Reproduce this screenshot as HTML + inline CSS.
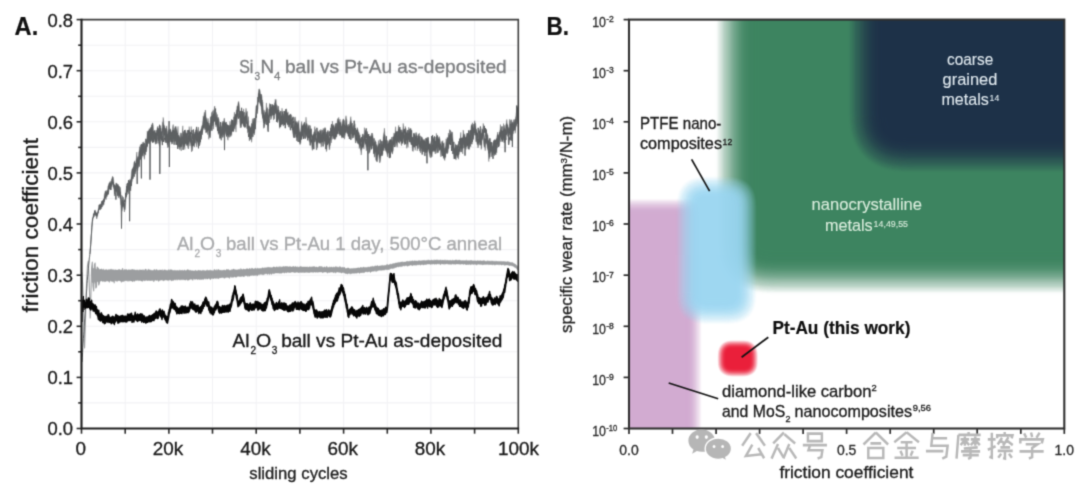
<!DOCTYPE html>
<html><head><meta charset="utf-8"><title>figure</title>
<style>
html,body{margin:0;padding:0;background:#fff;}
body{width:1080px;height:489px;overflow:hidden;font-family:"Liberation Sans",sans-serif;}
svg{display:block;}
svg text{font-family:"Liberation Sans",sans-serif;}
</style></head><body>
<svg width="1080" height="489" viewBox="0 0 1080 489">
<defs>
<filter id="b8" x="-20%" y="-20%" width="140%" height="140%"><feGaussianBlur stdDeviation="7.8 10"/></filter>
<filter id="b6" x="-20%" y="-20%" width="140%" height="140%"><feGaussianBlur stdDeviation="9"/></filter>
<filter id="b4" x="-30%" y="-30%" width="160%" height="160%"><feGaussianBlur stdDeviation="4.6"/></filter>
<filter id="b5" x="-30%" y="-30%" width="160%" height="160%"><feGaussianBlur stdDeviation="5.4"/></filter>
<filter id="b3" x="-30%" y="-30%" width="160%" height="160%"><feGaussianBlur stdDeviation="3.2"/></filter>
<filter id="pu" filterUnits="userSpaceOnUse" x="518" y="163.5" width="218.8" height="398.5" color-interpolation-filters="sRGB"><feGaussianBlur stdDeviation="4.12"/><feComponentTransfer><feFuncA type="table" tableValues="0.000 0.000 0.018 0.107 0.177 0.229 0.281 0.332 0.382 0.409 0.435 0.462 0.488 0.515 0.541 0.568 0.594 0.621 0.647 0.674 0.700 0.718 0.737 0.755 0.773 0.792 0.810 0.828 0.847 0.865 0.883 0.902 0.920 0.933 0.946 0.959 0.972 0.985 0.997 1.000 1.000"/></feComponentTransfer></filter>
<filter id="gr" filterUnits="userSpaceOnUse" x="622.3" y="-211" width="688.7" height="598.6" color-interpolation-filters="sRGB"><feGaussianBlur stdDeviation="10.88"/><feComponentTransfer><feFuncA type="table" tableValues="0.000 0.000 0.018 0.107 0.177 0.229 0.281 0.332 0.382 0.409 0.435 0.462 0.488 0.515 0.541 0.568 0.594 0.621 0.647 0.674 0.700 0.718 0.737 0.755 0.773 0.792 0.810 0.828 0.847 0.865 0.883 0.902 0.920 0.933 0.946 0.959 0.972 0.985 0.997 1.000 1.000"/></feComponentTransfer></filter>
<filter id="nv" filterUnits="userSpaceOnUse" x="759.2" y="-205" width="545.8" height="466.6" color-interpolation-filters="sRGB"><feGaussianBlur stdDeviation="10.29"/><feComponentTransfer><feFuncA type="table" tableValues="0.000 0.000 0.018 0.107 0.177 0.229 0.281 0.332 0.382 0.409 0.435 0.462 0.488 0.515 0.541 0.568 0.594 0.621 0.647 0.674 0.700 0.718 0.737 0.755 0.773 0.792 0.810 0.828 0.847 0.865 0.883 0.902 0.920 0.933 0.946 0.959 0.972 0.985 0.997 1.000 1.000"/></feComponentTransfer></filter>
<filter id="bl" filterUnits="userSpaceOnUse" x="623.5" y="123.5" width="186" height="253.5" color-interpolation-filters="sRGB"><feGaussianBlur stdDeviation="6.18"/><feComponentTransfer><feFuncA type="table" tableValues="0.000 0.000 0.018 0.107 0.177 0.229 0.281 0.332 0.382 0.409 0.435 0.462 0.488 0.515 0.541 0.568 0.594 0.621 0.647 0.674 0.700 0.718 0.737 0.755 0.773 0.792 0.810 0.828 0.847 0.865 0.883 0.902 0.920 0.933 0.946 0.959 0.972 0.985 0.997 1.000 1.000"/></feComponentTransfer></filter>
<filter id="rd" filterUnits="userSpaceOnUse" x="693" y="315.7" width="89.5" height="85.6" color-interpolation-filters="sRGB"><feGaussianBlur stdDeviation="2.79"/><feComponentTransfer><feFuncA type="table" tableValues="0.000 0.000 0.018 0.107 0.177 0.229 0.281 0.332 0.382 0.409 0.435 0.462 0.488 0.515 0.541 0.568 0.594 0.621 0.647 0.674 0.700 0.718 0.737 0.755 0.773 0.792 0.810 0.828 0.847 0.865 0.883 0.902 0.920 0.933 0.946 0.959 0.972 0.985 0.997 1.000 1.000"/></feComponentTransfer></filter>
<filter id="soft" x="0" y="0" width="1080" height="489" filterUnits="userSpaceOnUse" color-interpolation-filters="sRGB"><feConvolveMatrix order="3" kernelMatrix="0.0289 0.1122 0.0289 0.1122 0.4356 0.1122 0.0289 0.1122 0.0289" edgeMode="duplicate" preserveAlpha="false"/></filter>
<clipPath id="cb"><rect x="629.0" y="19.6" width="435.3" height="408.9"/></clipPath>
<clipPath id="ca"><rect x="81.5" y="19.6" width="436.8" height="408.9"/></clipPath>
</defs>
<g filter="url(#soft)">
<rect width="1080" height="489" fill="#ffffff"/>
<!-- ===== panel A ===== -->
<g stroke="#f2f2f5" stroke-width="1.1" fill="none"><line x1="125.2" y1="19.6" x2="125.2" y2="428.5"/><line x1="168.9" y1="19.6" x2="168.9" y2="428.5"/><line x1="212.5" y1="19.6" x2="212.5" y2="428.5"/><line x1="256.2" y1="19.6" x2="256.2" y2="428.5"/><line x1="299.9" y1="19.6" x2="299.9" y2="428.5"/><line x1="343.6" y1="19.6" x2="343.6" y2="428.5"/><line x1="387.3" y1="19.6" x2="387.3" y2="428.5"/><line x1="430.9" y1="19.6" x2="430.9" y2="428.5"/><line x1="474.6" y1="19.6" x2="474.6" y2="428.5"/><line x1="81.5" y1="45.2" x2="518.3" y2="45.2"/><line x1="81.5" y1="70.7" x2="518.3" y2="70.7"/><line x1="81.5" y1="96.3" x2="518.3" y2="96.3"/><line x1="81.5" y1="121.8" x2="518.3" y2="121.8"/><line x1="81.5" y1="147.4" x2="518.3" y2="147.4"/><line x1="81.5" y1="172.9" x2="518.3" y2="172.9"/><line x1="81.5" y1="198.5" x2="518.3" y2="198.5"/><line x1="81.5" y1="224.0" x2="518.3" y2="224.0"/><line x1="81.5" y1="249.6" x2="518.3" y2="249.6"/><line x1="81.5" y1="275.2" x2="518.3" y2="275.2"/><line x1="81.5" y1="300.7" x2="518.3" y2="300.7"/><line x1="81.5" y1="326.3" x2="518.3" y2="326.3"/><line x1="81.5" y1="351.8" x2="518.3" y2="351.8"/><line x1="81.5" y1="377.4" x2="518.3" y2="377.4"/><line x1="81.5" y1="402.9" x2="518.3" y2="402.9"/></g>
<g clip-path="url(#ca)">
<polyline fill="none" stroke="#9fa1a3" stroke-width="1.1" stroke-linejoin="round" points="81.8,272.0 82.6,283.0 83.6,310.0 84.6,348.0 85.4,322.0 86.4,288.0 87.4,266.0 88.3,261.0 89.2,282.0 90.2,318.0 90.9,296.0 91.6,268.0 92.3,262.0 93.0,286.0 93.7,291.0 94.4,265.0 95.1,263.0 95.8,288.0 96.5,287.0 97.2,267.0 98.0,268.0 98.7,285.0 99.4,283.0 100.2,269.0"/>
<polygon fill="#9c9ea0" stroke="#9c9ea0" stroke-width="0.5" points="92.0,268.5 92.6,268.6 93.2,268.5 93.8,268.2 94.4,269.0 95.0,269.3 95.6,268.7 96.2,269.5 96.8,269.1 97.4,269.3 98.0,268.9 98.6,268.1 99.2,270.0 99.8,269.5 100.4,269.9 101.0,268.9 101.6,268.9 102.2,270.1 102.8,269.4 103.4,268.9 104.0,270.2 104.6,270.1 105.2,269.6 105.8,270.1 106.4,269.8 107.0,269.6 107.6,270.2 108.2,269.7 108.8,269.7 109.4,269.9 110.0,269.2 110.6,269.4 111.2,269.2 111.8,269.5 112.4,269.9 113.0,269.3 113.6,270.0 114.2,270.2 114.8,269.8 115.4,269.8 116.0,270.1 116.6,270.1 117.2,270.1 117.8,270.1 118.4,269.5 119.0,270.0 119.6,269.3 120.2,269.9 120.8,270.0 121.4,269.9 122.0,269.9 122.6,268.0 123.2,270.1 123.8,270.3 124.4,269.7 125.0,269.3 125.6,270.0 126.2,269.7 126.8,269.6 127.4,270.2 128.0,270.1 128.6,269.7 129.2,270.1 129.8,269.7 130.4,270.1 131.0,269.5 131.6,269.7 132.2,269.9 132.8,269.0 133.4,269.9 134.0,270.1 134.6,269.7 135.2,270.3 135.8,270.0 136.4,270.0 137.0,270.3 137.6,269.9 138.2,270.0 138.8,270.4 139.4,269.9 140.0,269.8 140.6,270.0 141.2,270.0 141.8,270.1 142.4,270.3 143.0,269.5 143.6,270.3 144.2,270.2 144.8,270.2 145.4,269.1 146.0,269.0 146.6,270.4 147.2,270.3 147.8,270.5 148.4,268.9 149.0,269.7 149.6,270.0 150.2,269.9 150.8,270.2 151.4,270.3 152.0,270.6 152.6,270.5 153.2,270.2 153.8,270.2 154.4,269.4 155.0,269.9 155.6,270.5 156.2,269.2 156.8,269.9 157.4,269.9 158.0,270.5 158.6,270.3 159.2,270.2 159.8,270.1 160.4,270.1 161.0,269.9 161.6,270.0 162.2,270.7 162.8,269.6 163.4,270.7 164.0,270.3 164.6,269.7 165.2,270.0 165.8,270.3 166.4,270.3 167.0,270.6 167.6,270.4 168.2,270.3 168.8,269.5 169.4,270.2 170.0,270.2 170.6,269.6 171.2,270.0 171.8,269.8 172.4,270.2 173.0,270.6 173.6,270.5 174.2,270.5 174.8,270.2 175.4,270.4 176.0,270.6 176.6,270.7 177.2,270.1 177.8,270.7 178.4,270.8 179.0,270.3 179.6,270.2 180.2,270.6 180.8,270.2 181.4,270.6 182.0,270.3 182.6,270.3 183.2,270.7 183.8,270.5 184.4,270.1 185.0,270.2 185.6,270.8 186.2,270.5 186.8,270.3 187.4,269.5 188.0,270.3 188.6,269.7 189.2,270.6 189.8,270.5 190.4,270.1 191.0,270.9 191.6,270.8 192.2,270.8 192.8,270.7 193.4,270.9 194.0,270.8 194.6,270.9 195.2,270.6 195.8,270.2 196.4,271.0 197.0,270.9 197.6,270.7 198.2,270.5 198.8,270.1 199.4,270.8 200.0,270.4 200.6,270.6 201.2,270.7 201.8,270.9 202.4,270.7 203.0,269.9 203.6,270.7 204.2,270.5 204.8,270.8 205.4,270.9 206.0,270.4 206.6,270.4 207.2,269.8 207.8,270.8 208.4,270.6 209.0,270.6 209.6,270.5 210.2,269.8 210.8,270.7 211.4,270.5 212.0,270.7 212.6,270.7 213.2,270.8 213.8,270.4 214.4,269.2 215.0,270.5 215.6,270.1 216.2,270.7 216.8,269.4 217.4,270.8 218.0,269.6 218.6,269.5 219.2,270.6 219.8,270.0 220.4,270.3 221.0,270.3 221.6,270.4 222.2,270.7 222.8,270.0 223.4,270.3 224.0,269.9 224.6,269.9 225.2,270.7 225.8,270.0 226.4,269.5 227.0,269.6 227.6,269.7 228.2,269.8 228.8,269.5 229.4,270.4 230.0,270.3 230.6,270.3 231.2,270.2 231.8,269.5 232.4,270.2 233.0,269.1 233.6,269.0 234.2,269.7 234.8,269.5 235.4,269.9 236.0,269.6 236.6,270.1 237.2,269.8 237.8,269.9 238.4,269.6 239.0,269.5 239.6,269.4 240.2,269.8 240.8,268.5 241.4,269.3 242.0,269.3 242.6,269.7 243.2,269.3 243.8,268.9 244.4,269.6 245.0,269.1 245.6,269.4 246.2,269.0 246.8,268.8 247.4,268.7 248.0,269.1 248.6,269.3 249.2,268.6 249.8,268.4 250.4,269.0 251.0,269.2 251.6,268.2 252.2,268.3 252.8,268.6 253.4,269.0 254.0,269.0 254.6,268.8 255.2,268.1 255.8,268.4 256.4,268.9 257.0,268.8 257.6,268.0 258.2,268.5 258.8,268.7 259.4,268.6 260.0,268.4 260.6,268.6 261.2,268.2 261.8,268.5 262.4,267.7 263.0,268.0 263.6,268.3 264.2,267.6 264.8,268.3 265.4,267.9 266.0,267.5 266.6,267.8 267.2,267.9 267.8,267.1 268.4,267.3 269.0,267.6 269.6,267.6 270.2,267.2 270.8,267.9 271.4,267.7 272.0,267.5 272.6,267.7 273.2,266.9 273.8,266.9 274.4,267.1 275.0,267.3 275.6,267.4 276.2,266.8 276.8,267.1 277.4,267.1 278.0,267.4 278.6,266.9 279.2,267.2 279.8,266.5 280.4,266.7 281.0,267.4 281.6,267.0 282.2,266.8 282.8,267.0 283.4,266.5 284.0,266.6 284.6,266.9 285.2,266.2 285.8,266.8 286.4,267.1 287.0,266.0 287.6,267.1 288.2,267.0 288.8,266.8 289.4,266.8 290.0,266.4 290.6,266.8 291.2,267.1 291.8,267.0 292.4,266.8 293.0,266.7 293.6,266.3 294.2,267.0 294.8,267.0 295.4,266.3 296.0,266.9 296.6,267.1 297.2,266.6 297.8,267.2 298.4,267.2 299.0,267.0 299.6,266.9 300.2,266.4 300.8,266.6 301.4,266.8 302.0,267.0 302.6,267.0 303.2,266.9 303.8,267.0 304.4,267.0 305.0,266.9 305.6,267.0 306.2,267.0 306.8,267.1 307.4,266.9 308.0,267.2 308.6,267.3 309.2,266.8 309.8,266.9 310.4,266.9 311.0,267.2 311.6,266.9 312.2,266.8 312.8,266.9 313.4,266.7 314.0,266.4 314.6,266.8 315.2,267.0 315.8,267.3 316.4,267.0 317.0,267.1 317.6,267.4 318.2,266.8 318.8,267.2 319.4,266.8 320.0,266.0 320.6,267.4 321.2,266.2 321.8,267.3 322.4,266.9 323.0,267.4 323.6,267.4 324.2,266.9 324.8,266.9 325.4,267.4 326.0,267.4 326.6,266.2 327.2,267.0 327.8,267.5 328.4,267.5 329.0,267.4 329.6,267.0 330.2,267.5 330.8,267.1 331.4,267.0 332.0,267.3 332.6,267.4 333.2,267.2 333.8,266.9 334.4,267.3 335.0,267.4 335.6,266.5 336.2,267.2 336.8,266.7 337.4,267.0 338.0,267.5 338.6,267.3 339.2,267.5 339.8,266.4 340.4,267.1 341.0,267.2 341.6,267.8 342.2,267.4 342.8,267.3 343.4,268.1 344.0,267.1 344.6,267.6 345.2,268.4 345.8,268.4 346.4,268.5 347.0,268.2 347.6,268.1 348.2,268.0 348.8,268.1 349.4,269.0 350.0,268.4 350.6,269.0 351.2,268.4 351.8,268.7 352.4,268.7 353.0,268.2 353.6,268.4 354.2,268.6 354.8,268.3 355.4,268.4 356.0,268.0 356.6,268.3 357.2,267.9 357.8,268.1 358.4,267.8 359.0,268.0 359.6,268.0 360.2,268.0 360.8,267.0 361.4,267.7 362.0,267.7 362.6,267.8 363.2,267.1 363.8,267.2 364.4,267.4 365.0,267.4 365.6,267.5 366.2,267.5 366.8,267.4 367.4,267.3 368.0,267.3 368.6,267.0 369.2,267.2 369.8,267.1 370.4,266.8 371.0,266.8 371.6,266.7 372.2,266.2 372.8,266.5 373.4,266.7 374.0,266.4 374.6,266.2 375.2,265.7 375.8,266.2 376.4,266.1 377.0,265.9 377.6,265.5 378.2,266.1 378.8,266.3 379.4,266.1 380.0,265.7 380.6,265.9 381.2,265.6 381.8,265.8 382.4,265.4 383.0,265.5 383.6,265.7 384.2,265.8 384.8,265.3 385.4,265.6 386.0,265.3 386.6,264.9 387.2,264.2 387.8,265.2 388.4,265.0 389.0,264.9 389.6,264.5 390.2,264.6 390.8,263.8 391.4,264.5 392.0,264.1 392.6,263.9 393.2,263.3 393.8,264.0 394.4,263.6 395.0,263.2 395.6,263.1 396.2,263.0 396.8,262.9 397.4,262.8 398.0,262.8 398.6,262.4 399.2,262.5 399.8,262.6 400.4,262.3 401.0,262.1 401.6,262.1 402.2,262.2 402.8,261.8 403.4,262.2 404.0,262.0 404.6,262.1 405.2,262.0 405.8,261.9 406.4,261.8 407.0,261.0 407.6,261.4 408.2,261.5 408.8,261.6 409.4,261.3 410.0,261.2 410.6,261.2 411.2,261.3 411.8,261.0 412.4,260.8 413.0,261.0 413.6,261.2 414.2,260.9 414.8,260.8 415.4,260.9 416.0,261.0 416.6,261.0 417.2,261.2 417.8,261.0 418.4,260.8 419.0,260.7 419.6,260.7 420.2,260.8 420.8,261.0 421.4,260.7 422.0,260.9 422.6,260.6 423.2,260.6 423.8,260.6 424.4,260.4 425.0,260.6 425.6,260.8 426.2,260.4 426.8,260.5 427.4,260.3 428.0,260.4 428.6,260.1 429.2,260.5 429.8,260.3 430.4,260.5 431.0,260.4 431.6,260.1 432.2,260.3 432.8,260.5 433.4,260.2 434.0,260.5 434.6,260.0 435.2,260.3 435.8,260.1 436.4,259.9 437.0,260.3 437.6,260.0 438.2,260.3 438.8,260.2 439.4,260.3 440.0,260.2 440.6,260.0 441.2,260.5 441.8,260.2 442.4,260.3 443.0,260.1 443.6,260.4 444.2,260.0 444.8,260.4 445.4,259.9 446.0,260.5 446.6,260.4 447.2,259.9 447.8,260.6 448.4,260.6 449.0,260.4 449.6,260.5 450.2,260.5 450.8,260.3 451.4,260.7 452.0,260.4 452.6,260.2 453.2,260.3 453.8,260.7 454.4,260.5 455.0,260.3 455.6,260.1 456.2,260.0 456.8,260.2 457.4,260.3 458.0,260.7 458.6,260.0 459.2,260.1 459.8,260.3 460.4,260.4 461.0,260.8 461.6,260.7 462.2,260.8 462.8,260.5 463.4,260.8 464.0,260.4 464.6,260.8 465.2,260.8 465.8,260.5 466.4,260.2 467.0,260.7 467.6,260.8 468.2,260.8 468.8,260.7 469.4,260.8 470.0,260.8 470.6,260.4 471.2,260.3 471.8,260.8 472.4,261.0 473.0,260.6 473.6,260.9 474.2,261.0 474.8,260.8 475.4,260.8 476.0,261.1 476.6,261.1 477.2,260.5 477.8,261.0 478.4,261.0 479.0,260.6 479.6,261.0 480.2,261.1 480.8,260.6 481.4,261.1 482.0,260.9 482.6,260.9 483.2,260.7 483.8,260.8 484.4,260.7 485.0,261.2 485.6,261.3 486.2,261.2 486.8,261.2 487.4,261.2 488.0,260.6 488.6,261.2 489.2,261.3 489.8,261.1 490.4,261.4 491.0,260.7 491.6,261.3 492.2,261.3 492.8,260.9 493.4,261.2 494.0,261.4 494.6,261.3 495.2,261.4 495.8,261.2 496.4,261.3 497.0,261.3 497.6,261.5 498.2,261.5 498.8,261.4 499.4,261.5 500.0,261.4 500.6,261.4 501.2,261.6 501.8,261.4 502.4,261.6 503.0,261.7 503.6,261.5 504.2,261.6 504.8,261.7 505.4,261.8 506.0,261.8 506.6,261.9 507.2,261.7 507.8,261.6 508.4,261.8 509.0,262.2 509.6,262.1 510.2,262.4 510.8,262.6 511.4,262.8 512.0,262.2 512.6,262.8 513.2,263.0 513.8,263.6 514.4,263.9 515.0,263.8 515.6,264.6 516.2,264.9 516.8,265.5 517.4,266.3 518.0,266.7 518.0,270.1 517.4,269.8 516.8,268.9 516.2,268.1 515.6,267.9 515.0,267.3 514.4,267.1 513.8,266.8 513.2,266.1 512.6,266.0 512.0,265.8 511.4,265.7 510.8,265.5 510.2,265.4 509.6,265.4 509.0,265.8 508.4,265.1 507.8,264.9 507.2,265.1 506.6,264.9 506.0,265.0 505.4,264.9 504.8,265.6 504.2,264.7 503.6,264.7 503.0,264.8 502.4,264.7 501.8,265.0 501.2,264.9 500.6,264.5 500.0,264.5 499.4,264.8 498.8,264.5 498.2,264.8 497.6,264.5 497.0,264.5 496.4,264.4 495.8,264.8 495.2,264.7 494.6,265.0 494.0,264.6 493.4,264.4 492.8,264.5 492.2,265.1 491.6,264.5 491.0,264.5 490.4,264.5 489.8,264.6 489.2,264.4 488.6,264.6 488.0,264.6 487.4,264.3 486.8,264.3 486.2,264.6 485.6,264.6 485.0,264.3 484.4,264.4 483.8,264.4 483.2,264.7 482.6,265.0 482.0,264.2 481.4,264.4 480.8,264.2 480.2,264.6 479.6,264.2 479.0,264.4 478.4,264.1 477.8,264.3 477.2,264.2 476.6,265.2 476.0,264.3 475.4,264.3 474.8,264.3 474.2,264.1 473.6,264.7 473.0,264.1 472.4,264.2 471.8,264.3 471.2,264.2 470.6,264.8 470.0,264.5 469.4,264.1 468.8,264.8 468.2,264.3 467.6,264.4 467.0,264.0 466.4,265.0 465.8,264.4 465.2,264.2 464.6,264.0 464.0,264.0 463.4,264.4 462.8,264.0 462.2,264.1 461.6,264.1 461.0,264.0 460.4,264.3 459.8,264.0 459.2,264.2 458.6,264.0 458.0,264.0 457.4,263.9 456.8,263.9 456.2,263.9 455.6,264.3 455.0,264.2 454.4,264.1 453.8,263.9 453.2,264.3 452.6,263.8 452.0,264.4 451.4,264.1 450.8,264.4 450.2,263.9 449.6,264.2 449.0,264.0 448.4,264.2 447.8,263.8 447.2,264.1 446.6,263.8 446.0,264.0 445.4,264.1 444.8,263.8 444.2,264.5 443.6,264.0 443.0,264.0 442.4,263.9 441.8,263.7 441.2,263.9 440.6,264.7 440.0,264.4 439.4,263.8 438.8,263.8 438.2,264.1 437.6,263.8 437.0,263.9 436.4,264.2 435.8,263.9 435.2,264.1 434.6,264.4 434.0,263.7 433.4,263.9 432.8,264.0 432.2,264.2 431.6,264.1 431.0,264.2 430.4,264.5 429.8,264.1 429.2,264.0 428.6,264.1 428.0,264.0 427.4,264.1 426.8,264.2 426.2,264.4 425.6,264.5 425.0,264.5 424.4,264.5 423.8,264.7 423.2,264.9 422.6,264.6 422.0,264.6 421.4,264.5 420.8,265.2 420.2,264.8 419.6,264.6 419.0,265.0 418.4,264.8 417.8,264.8 417.2,264.8 416.6,265.3 416.0,264.8 415.4,265.2 414.8,264.9 414.2,265.3 413.6,264.8 413.0,265.7 412.4,265.4 411.8,264.9 411.2,265.4 410.6,265.0 410.0,265.1 409.4,265.4 408.8,266.0 408.2,265.5 407.6,266.3 407.0,265.8 406.4,265.6 405.8,265.7 405.2,265.6 404.6,266.1 404.0,265.8 403.4,265.7 402.8,265.8 402.2,266.5 401.6,266.6 401.0,266.1 400.4,266.7 399.8,266.5 399.2,266.4 398.6,266.9 398.0,266.7 397.4,266.7 396.8,266.9 396.2,267.5 395.6,267.5 395.0,267.5 394.4,268.0 393.8,268.4 393.2,267.9 392.6,268.7 392.0,268.2 391.4,268.2 390.8,268.9 390.2,268.6 389.6,268.7 389.0,270.0 388.4,269.1 387.8,269.9 387.2,269.2 386.6,269.8 386.0,269.5 385.4,269.6 384.8,269.8 384.2,270.1 383.6,269.9 383.0,270.3 382.4,270.0 381.8,270.4 381.2,270.0 380.6,270.3 380.0,270.1 379.4,270.3 378.8,270.2 378.2,270.6 377.6,271.1 377.0,270.5 376.4,271.4 375.8,271.5 375.2,270.6 374.6,270.8 374.0,271.6 373.4,271.0 372.8,271.3 372.2,271.3 371.6,271.4 371.0,272.1 370.4,272.6 369.8,271.3 369.2,271.7 368.6,271.7 368.0,271.7 367.4,272.0 366.8,271.7 366.2,271.8 365.6,271.7 365.0,272.0 364.4,272.6 363.8,273.0 363.2,272.0 362.6,272.7 362.0,272.2 361.4,272.9 360.8,273.0 360.2,272.4 359.6,273.4 359.0,273.0 358.4,272.6 357.8,273.0 357.2,272.8 356.6,273.1 356.0,273.4 355.4,272.9 354.8,273.4 354.2,273.0 353.6,273.3 353.0,273.3 352.4,273.2 351.8,273.5 351.2,273.4 350.6,274.1 350.0,273.6 349.4,273.6 348.8,273.3 348.2,273.5 347.6,273.9 347.0,273.7 346.4,273.4 345.8,273.7 345.2,273.2 344.6,273.0 344.0,272.8 343.4,272.6 342.8,272.6 342.2,272.5 341.6,273.1 341.0,273.1 340.4,272.2 339.8,272.2 339.2,272.5 338.6,272.2 338.0,272.1 337.4,272.0 336.8,272.0 336.2,272.3 335.6,273.2 335.0,272.0 334.4,272.0 333.8,273.1 333.2,272.0 332.6,272.1 332.0,272.3 331.4,272.1 330.8,272.1 330.2,272.2 329.6,272.4 329.0,272.5 328.4,272.0 327.8,273.2 327.2,272.6 326.6,272.3 326.0,272.1 325.4,272.0 324.8,272.1 324.2,272.1 323.6,272.2 323.0,272.5 322.4,272.7 321.8,272.0 321.2,271.9 320.6,272.0 320.0,272.0 319.4,272.0 318.8,272.2 318.2,272.1 317.6,272.3 317.0,272.2 316.4,272.1 315.8,272.3 315.2,272.2 314.6,272.0 314.0,272.0 313.4,272.5 312.8,272.0 312.2,272.4 311.6,272.1 311.0,272.3 310.4,272.0 309.8,272.7 309.2,272.3 308.6,272.3 308.0,272.9 307.4,272.0 306.8,272.0 306.2,272.6 305.6,272.1 305.0,272.9 304.4,272.3 303.8,272.7 303.2,272.0 302.6,272.4 302.0,272.3 301.4,272.5 300.8,272.3 300.2,272.5 299.6,272.6 299.0,272.0 298.4,273.0 297.8,272.1 297.2,272.2 296.6,272.1 296.0,272.5 295.4,272.3 294.8,272.9 294.2,272.1 293.6,272.3 293.0,272.1 292.4,272.1 291.8,272.1 291.2,272.2 290.6,272.5 290.0,272.4 289.4,272.5 288.8,272.7 288.2,272.1 287.6,272.2 287.0,272.5 286.4,273.0 285.8,272.4 285.2,272.3 284.6,273.0 284.0,273.3 283.4,272.3 282.8,272.5 282.2,272.9 281.6,273.2 281.0,273.1 280.4,273.2 279.8,272.9 279.2,273.4 278.6,273.0 278.0,273.1 277.4,273.1 276.8,273.1 276.2,272.9 275.6,273.1 275.0,273.0 274.4,273.5 273.8,273.8 273.2,273.4 272.6,273.3 272.0,273.9 271.4,274.4 270.8,273.9 270.2,273.3 269.6,274.7 269.0,273.4 268.4,273.8 267.8,274.0 267.2,274.5 266.6,273.6 266.0,273.7 265.4,273.8 264.8,273.8 264.2,274.5 263.6,274.7 263.0,274.4 262.4,274.8 261.8,274.1 261.2,274.5 260.6,274.2 260.0,274.3 259.4,274.8 258.8,274.5 258.2,274.7 257.6,275.5 257.0,276.1 256.4,274.7 255.8,275.3 255.2,275.2 254.6,275.3 254.0,275.6 253.4,275.5 252.8,275.1 252.2,275.6 251.6,275.6 251.0,275.2 250.4,275.6 249.8,276.3 249.2,275.9 248.6,275.6 248.0,276.6 247.4,275.9 246.8,275.6 246.2,275.8 245.6,275.7 245.0,275.6 244.4,276.2 243.8,277.0 243.2,275.9 242.6,276.2 242.0,276.1 241.4,276.4 240.8,276.4 240.2,276.5 239.6,276.4 239.0,276.3 238.4,276.3 237.8,276.3 237.2,276.4 236.6,277.1 236.0,277.5 235.4,277.0 234.8,276.9 234.2,276.6 233.6,277.2 233.0,277.4 232.4,277.0 231.8,277.6 231.2,276.8 230.6,276.8 230.0,277.2 229.4,278.4 228.8,277.7 228.2,277.3 227.6,277.3 227.0,277.6 226.4,277.3 225.8,277.7 225.2,277.5 224.6,278.4 224.0,277.5 223.4,277.8 222.8,277.6 222.2,277.6 221.6,277.6 221.0,277.9 220.4,277.7 219.8,278.0 219.2,277.8 218.6,278.6 218.0,279.0 217.4,277.8 216.8,278.1 216.2,278.5 215.6,278.4 215.0,277.9 214.4,277.9 213.8,278.9 213.2,278.2 212.6,278.7 212.0,278.1 211.4,278.6 210.8,279.2 210.2,279.8 209.6,278.5 209.0,278.4 208.4,278.3 207.8,279.1 207.2,279.0 206.6,278.8 206.0,278.5 205.4,279.1 204.8,278.8 204.2,278.5 203.6,279.5 203.0,279.2 202.4,279.2 201.8,279.1 201.2,279.7 200.6,278.7 200.0,280.0 199.4,279.1 198.8,279.3 198.2,278.9 197.6,279.8 197.0,279.1 196.4,278.9 195.8,278.9 195.2,279.4 194.6,279.2 194.0,278.9 193.4,278.8 192.8,280.4 192.2,279.4 191.6,279.1 191.0,279.6 190.4,279.1 189.8,279.3 189.2,279.9 188.6,279.9 188.0,280.6 187.4,280.1 186.8,279.4 186.2,279.6 185.6,280.1 185.0,280.1 184.4,279.7 183.8,280.0 183.2,279.3 182.6,279.7 182.0,279.5 181.4,279.7 180.8,279.5 180.2,280.1 179.6,280.1 179.0,279.3 178.4,279.3 177.8,280.2 177.2,279.6 176.6,279.8 176.0,279.6 175.4,280.0 174.8,279.8 174.2,279.7 173.6,280.0 173.0,280.7 172.4,279.8 171.8,281.0 171.2,280.5 170.6,280.0 170.0,279.7 169.4,280.1 168.8,280.0 168.2,280.7 167.6,280.3 167.0,280.0 166.4,280.1 165.8,279.7 165.2,280.3 164.6,280.2 164.0,279.9 163.4,280.9 162.8,280.6 162.2,279.8 161.6,280.0 161.0,280.0 160.4,280.2 159.8,280.5 159.2,280.4 158.6,281.5 158.0,280.6 157.4,279.8 156.8,280.7 156.2,280.0 155.6,279.9 155.0,280.6 154.4,280.2 153.8,281.9 153.2,279.9 152.6,280.6 152.0,280.3 151.4,280.5 150.8,280.2 150.2,281.0 149.6,280.3 149.0,280.7 148.4,280.2 147.8,280.2 147.2,281.0 146.6,280.1 146.0,280.1 145.4,280.6 144.8,280.9 144.2,280.5 143.6,280.2 143.0,280.5 142.4,281.4 141.8,281.0 141.2,280.9 140.6,280.6 140.0,280.6 139.4,280.4 138.8,280.5 138.2,280.6 137.6,280.2 137.0,280.2 136.4,280.5 135.8,280.3 135.2,280.5 134.6,281.5 134.0,280.8 133.4,280.7 132.8,281.9 132.2,280.9 131.6,280.9 131.0,281.1 130.4,280.7 129.8,280.5 129.2,281.3 128.6,280.5 128.0,281.4 127.4,280.7 126.8,280.4 126.2,280.9 125.6,280.5 125.0,280.9 124.4,280.7 123.8,281.7 123.2,280.7 122.6,281.6 122.0,281.2 121.4,282.4 120.8,281.1 120.2,280.9 119.6,280.6 119.0,281.0 118.4,280.5 117.8,280.8 117.2,281.5 116.6,281.3 116.0,280.7 115.4,280.8 114.8,280.6 114.2,283.3 113.6,281.4 113.0,281.6 112.4,281.5 111.8,281.0 111.2,281.4 110.6,280.8 110.0,280.8 109.4,282.4 108.8,281.2 108.2,281.3 107.6,281.1 107.0,280.7 106.4,280.9 105.8,281.7 105.2,281.2 104.6,281.7 104.0,280.9 103.4,281.3 102.8,281.6 102.2,281.2 101.6,280.8 101.0,281.0 100.4,281.3 99.8,280.9 99.2,281.4 98.6,281.3 98.0,281.2 97.4,281.9 96.8,281.4 96.2,281.9 95.6,282.8 95.0,281.7 94.4,282.0 93.8,284.0 93.2,282.4 92.6,282.4 92.0,282.2"/>
<polygon fill="#5e6163" stroke="#5e6163" stroke-width="0.4" stroke-linejoin="round" points="90.0,251.9 90.4,247.3 90.8,241.5 91.2,236.3 91.6,230.1 92.0,224.5 92.4,219.3 92.8,217.3 93.2,215.6 93.6,213.3 94.0,213.3 94.4,212.2 94.8,210.0 95.2,209.9 95.6,211.6 96.0,212.3 96.4,213.9 96.8,214.6 97.2,213.1 97.6,212.1 98.0,210.5 98.4,208.6 98.8,204.9 99.2,204.8 99.6,205.0 100.0,204.1 100.4,205.4 100.8,204.4 101.2,204.0 101.6,202.4 102.0,200.7 102.4,200.7 102.8,200.7 103.2,200.6 103.6,199.4 104.0,198.3 104.4,194.3 104.8,193.0 105.2,191.1 105.6,190.7 106.0,192.1 106.4,191.4 106.8,190.3 107.2,190.8 107.6,189.5 108.0,185.8 108.4,185.6 108.8,183.8 109.2,182.7 109.6,182.7 110.0,181.4 110.4,181.5 110.8,183.5 111.2,180.9 111.6,178.9 112.0,178.3 112.4,176.6 112.8,176.5 113.2,177.0 113.6,179.6 114.0,184.1 114.4,185.7 114.8,184.4 115.2,185.5 115.6,185.8 116.0,182.8 116.4,184.4 116.8,183.0 117.2,185.3 117.6,187.0 118.0,187.0 118.4,189.0 118.8,187.5 119.2,189.6 119.6,190.1 120.0,189.9 120.4,187.3 120.8,193.1 121.2,197.2 121.6,200.8 122.0,203.9 122.4,195.8 122.8,198.6 123.2,197.0 123.6,198.9 124.0,202.7 124.4,203.8 124.8,199.6 125.2,201.0 125.6,195.4 126.0,191.5 126.4,189.0 126.8,183.7 127.2,185.3 127.6,184.8 128.0,183.8 128.4,182.3 128.8,182.6 129.2,181.1 129.6,179.4 130.0,182.6 130.4,181.6 130.8,179.4 131.2,176.2 131.6,171.3 132.0,169.2 132.4,168.7 132.8,167.9 133.2,167.1 133.6,166.1 134.0,162.1 134.4,161.9 134.8,160.7 135.2,165.6 135.6,163.5 136.0,160.5 136.4,157.6 136.8,152.0 137.2,158.6 137.6,159.6 138.0,156.3 138.4,157.5 138.8,152.1 139.2,150.7 139.6,146.7 140.0,147.8 140.4,144.6 140.8,148.7 141.2,145.2 141.6,149.2 142.0,145.5 142.4,142.4 142.8,145.2 143.2,143.2 143.6,141.8 144.0,148.1 144.4,149.7 144.8,143.5 145.2,144.1 145.6,146.5 146.0,142.0 146.4,142.7 146.8,138.9 147.2,131.2 147.6,132.3 148.0,131.3 148.4,130.4 148.8,131.2 149.2,128.7 149.6,130.0 150.0,128.3 150.4,128.0 150.8,129.5 151.2,126.9 151.6,127.3 152.0,128.8 152.4,123.0 152.8,122.9 153.2,125.3 153.6,131.6 154.0,131.6 154.4,130.5 154.8,130.0 155.2,130.4 155.6,132.9 156.0,133.1 156.4,135.1 156.8,131.0 157.2,127.5 157.6,127.6 158.0,126.1 158.4,129.7 158.8,128.6 159.2,135.1 159.6,131.7 160.0,131.9 160.4,126.2 160.8,125.6 161.2,132.2 161.6,131.3 162.0,132.2 162.4,122.4 162.8,121.9 163.2,117.4 163.6,121.6 164.0,125.1 164.4,125.4 164.8,126.5 165.2,129.9 165.6,128.1 166.0,129.5 166.4,126.9 166.8,125.8 167.2,130.6 167.6,132.8 168.0,136.5 168.4,129.8 168.8,134.1 169.2,131.6 169.6,130.2 170.0,128.5 170.4,131.5 170.8,131.3 171.2,131.9 171.6,132.8 172.0,130.4 172.4,129.8 172.8,125.9 173.2,124.5 173.6,129.6 174.0,131.5 174.4,128.3 174.8,127.8 175.2,126.3 175.6,127.6 176.0,126.4 176.4,128.4 176.8,129.7 177.2,132.7 177.6,132.9 178.0,126.4 178.4,137.6 178.8,135.8 179.2,135.8 179.6,139.7 180.0,135.4 180.4,132.8 180.8,139.2 181.2,133.9 181.6,132.9 182.0,138.0 182.4,132.7 182.8,125.8 183.2,134.3 183.6,131.3 184.0,131.9 184.4,136.6 184.8,137.2 185.2,132.8 185.6,129.8 186.0,131.4 186.4,136.3 186.8,132.9 187.2,133.3 187.6,138.5 188.0,133.8 188.4,135.8 188.8,135.3 189.2,126.6 189.6,133.8 190.0,131.9 190.4,133.2 190.8,132.2 191.2,126.5 191.6,140.0 192.0,135.7 192.4,140.9 192.8,137.2 193.2,134.4 193.6,138.5 194.0,135.3 194.4,136.9 194.8,132.1 195.2,132.4 195.6,129.9 196.0,129.7 196.4,128.1 196.8,130.0 197.2,130.2 197.6,133.1 198.0,126.9 198.4,127.5 198.8,133.4 199.2,131.3 199.6,132.1 200.0,130.9 200.4,132.3 200.8,129.2 201.2,128.4 201.6,126.5 202.0,125.6 202.4,124.7 202.8,121.2 203.2,116.2 203.6,118.0 204.0,114.3 204.4,112.2 204.8,116.6 205.2,110.0 205.6,110.4 206.0,116.8 206.4,118.1 206.8,119.1 207.2,122.4 207.6,121.9 208.0,118.2 208.4,121.4 208.8,125.4 209.2,125.7 209.6,125.2 210.0,124.9 210.4,116.8 210.8,117.9 211.2,117.3 211.6,112.6 212.0,112.7 212.4,111.2 212.8,116.8 213.2,109.7 213.6,112.7 214.0,114.6 214.4,107.1 214.8,106.1 215.2,109.9 215.6,116.5 216.0,118.2 216.4,112.4 216.8,115.7 217.2,114.4 217.6,118.1 218.0,120.7 218.4,122.1 218.8,118.8 219.2,121.7 219.6,126.7 220.0,127.2 220.4,127.8 220.8,128.6 221.2,131.0 221.6,128.9 222.0,125.3 222.4,127.7 222.8,121.2 223.2,122.8 223.6,123.7 224.0,118.3 224.4,118.4 224.8,123.0 225.2,123.0 225.6,122.2 226.0,122.8 226.4,122.0 226.8,124.1 227.2,124.8 227.6,124.7 228.0,125.0 228.4,126.3 228.8,125.3 229.2,125.1 229.6,127.5 230.0,121.3 230.4,128.2 230.8,128.3 231.2,121.9 231.6,119.3 232.0,122.6 232.4,119.8 232.8,122.8 233.2,123.0 233.6,116.9 234.0,116.4 234.4,112.2 234.8,116.8 235.2,117.1 235.6,115.9 236.0,112.9 236.4,110.1 236.8,110.1 237.2,105.8 237.6,107.2 238.0,103.2 238.4,101.7 238.8,101.5 239.2,104.7 239.6,109.6 240.0,113.8 240.4,118.5 240.8,110.9 241.2,119.3 241.6,115.3 242.0,114.1 242.4,116.5 242.8,115.3 243.2,112.9 243.6,108.8 244.0,113.7 244.4,112.0 244.8,116.8 245.2,116.8 245.6,112.7 246.0,108.2 246.4,111.7 246.8,112.9 247.2,111.3 247.6,117.6 248.0,123.2 248.4,116.6 248.8,126.3 249.2,126.1 249.6,125.7 250.0,127.6 250.4,128.1 250.8,128.1 251.2,126.9 251.6,123.1 252.0,128.6 252.4,118.7 252.8,122.6 253.2,121.8 253.6,119.2 254.0,119.6 254.4,123.5 254.8,119.7 255.2,119.7 255.6,112.6 256.0,106.1 256.4,105.5 256.8,105.2 257.2,103.9 257.6,104.2 258.0,96.3 258.4,92.8 258.8,89.3 259.2,88.8 259.6,89.5 260.0,90.2 260.4,94.5 260.8,97.1 261.2,97.0 261.6,94.9 262.0,96.6 262.4,104.4 262.8,102.2 263.2,108.2 263.6,113.7 264.0,109.9 264.4,111.8 264.8,115.8 265.2,111.9 265.6,113.0 266.0,109.2 266.4,102.9 266.8,109.3 267.2,109.1 267.6,107.6 268.0,114.4 268.4,115.7 268.8,109.2 269.2,108.7 269.6,103.3 270.0,105.8 270.4,104.7 270.8,108.3 271.2,111.4 271.6,107.0 272.0,105.1 272.4,104.1 272.8,104.9 273.2,107.1 273.6,107.4 274.0,109.5 274.4,103.4 274.8,103.1 275.2,99.3 275.6,101.7 276.0,99.4 276.4,105.2 276.8,109.2 277.2,105.3 277.6,111.6 278.0,107.0 278.4,106.0 278.8,109.9 279.2,110.2 279.6,115.2 280.0,113.6 280.4,115.5 280.8,117.2 281.2,115.6 281.6,116.1 282.0,108.2 282.4,112.7 282.8,115.2 283.2,116.8 283.6,114.0 284.0,113.6 284.4,111.3 284.8,111.4 285.2,112.1 285.6,113.2 286.0,111.3 286.4,108.7 286.8,111.4 287.2,113.9 287.6,113.8 288.0,111.8 288.4,115.9 288.8,115.5 289.2,117.3 289.6,115.4 290.0,113.9 290.4,114.5 290.8,113.9 291.2,115.1 291.6,115.5 292.0,121.4 292.4,121.4 292.8,121.6 293.2,122.9 293.6,126.0 294.0,127.4 294.4,119.5 294.8,117.2 295.2,116.9 295.6,120.4 296.0,122.5 296.4,123.1 296.8,121.3 297.2,124.9 297.6,122.3 298.0,122.4 298.4,124.1 298.8,120.5 299.2,127.9 299.6,131.5 300.0,133.5 300.4,134.1 300.8,130.0 301.2,124.7 301.6,121.5 302.0,124.3 302.4,125.2 302.8,127.1 303.2,125.1 303.6,124.1 304.0,122.8 304.4,122.1 304.8,122.8 305.2,124.7 305.6,125.7 306.0,117.2 306.4,123.6 306.8,123.2 307.2,125.0 307.6,129.4 308.0,124.6 308.4,126.8 308.8,125.7 309.2,129.8 309.6,125.1 310.0,131.9 310.4,125.6 310.8,131.5 311.2,129.4 311.6,135.4 312.0,140.2 312.4,139.0 312.8,135.1 313.2,134.2 313.6,133.6 314.0,131.6 314.4,131.7 314.8,126.5 315.2,129.7 315.6,129.6 316.0,134.2 316.4,137.4 316.8,139.2 317.2,135.8 317.6,132.7 318.0,130.9 318.4,132.5 318.8,131.7 319.2,133.4 319.6,130.5 320.0,130.5 320.4,129.5 320.8,134.3 321.2,135.5 321.6,129.7 322.0,133.8 322.4,129.9 322.8,131.5 323.2,128.3 323.6,129.8 324.0,132.9 324.4,129.4 324.8,132.4 325.2,129.9 325.6,128.9 326.0,137.8 326.4,136.6 326.8,138.3 327.2,131.3 327.6,131.2 328.0,130.2 328.4,132.6 328.8,136.3 329.2,137.6 329.6,139.3 330.0,131.9 330.4,134.1 330.8,130.7 331.2,130.1 331.6,128.5 332.0,129.1 332.4,121.1 332.8,127.1 333.2,124.5 333.6,125.3 334.0,126.5 334.4,128.8 334.8,126.1 335.2,123.7 335.6,125.1 336.0,126.2 336.4,128.3 336.8,128.9 337.2,121.5 337.6,118.6 338.0,121.6 338.4,118.8 338.8,117.4 339.2,123.8 339.6,121.0 340.0,119.1 340.4,123.4 340.8,121.9 341.2,123.7 341.6,127.5 342.0,125.1 342.4,121.6 342.8,119.9 343.2,118.9 343.6,119.1 344.0,120.7 344.4,120.5 344.8,124.2 345.2,126.5 345.6,118.5 346.0,115.7 346.4,118.5 346.8,120.1 347.2,126.8 347.6,124.9 348.0,127.2 348.4,124.0 348.8,126.5 349.2,125.4 349.6,124.0 350.0,122.1 350.4,120.2 350.8,116.6 351.2,120.2 351.6,123.3 352.0,123.8 352.4,123.0 352.8,126.5 353.2,129.5 353.6,125.4 354.0,126.4 354.4,124.5 354.8,126.6 355.2,132.3 355.6,133.3 356.0,131.5 356.4,131.4 356.8,130.1 357.2,127.6 357.6,128.7 358.0,130.0 358.4,132.1 358.8,132.2 359.2,133.2 359.6,136.1 360.0,134.7 360.4,138.1 360.8,142.8 361.2,144.8 361.6,142.3 362.0,138.7 362.4,133.9 362.8,135.8 363.2,133.9 363.6,138.8 364.0,139.4 364.4,127.6 364.8,133.3 365.2,132.6 365.6,130.1 366.0,139.2 366.4,138.2 366.8,138.7 367.2,133.1 367.6,136.3 368.0,135.8 368.4,135.0 368.8,138.6 369.2,141.9 369.6,139.1 370.0,140.1 370.4,135.5 370.8,137.6 371.2,136.2 371.6,133.1 372.0,136.4 372.4,133.1 372.8,135.2 373.2,137.8 373.6,141.3 374.0,143.1 374.4,142.6 374.8,142.9 375.2,140.9 375.6,140.5 376.0,146.0 376.4,148.2 376.8,144.2 377.2,149.8 377.6,149.5 378.0,146.3 378.4,140.4 378.8,143.4 379.2,149.6 379.6,151.7 380.0,154.3 380.4,152.2 380.8,145.9 381.2,143.9 381.6,145.4 382.0,140.7 382.4,144.8 382.8,144.8 383.2,137.0 383.6,134.3 384.0,132.1 384.4,128.2 384.8,134.3 385.2,135.2 385.6,139.8 386.0,140.6 386.4,144.5 386.8,141.2 387.2,146.4 387.6,140.2 388.0,141.9 388.4,143.8 388.8,141.1 389.2,140.4 389.6,139.7 390.0,139.9 390.4,139.0 390.8,139.9 391.2,140.6 391.6,137.1 392.0,139.5 392.4,141.2 392.8,141.5 393.2,136.7 393.6,136.7 394.0,132.9 394.4,135.3 394.8,133.0 395.2,132.6 395.6,126.7 396.0,133.5 396.4,131.3 396.8,133.5 397.2,136.2 397.6,134.1 398.0,130.9 398.4,127.0 398.8,125.3 399.2,129.6 399.6,128.3 400.0,130.1 400.4,132.2 400.8,130.0 401.2,133.4 401.6,132.1 402.0,133.6 402.4,130.6 402.8,129.5 403.2,123.4 403.6,128.6 404.0,130.7 404.4,133.8 404.8,135.4 405.2,126.4 405.6,127.8 406.0,128.6 406.4,131.8 406.8,132.9 407.2,131.8 407.6,134.0 408.0,133.3 408.4,132.5 408.8,127.2 409.2,131.8 409.6,128.9 410.0,128.8 410.4,132.1 410.8,132.9 411.2,134.4 411.6,136.2 412.0,137.0 412.4,138.0 412.8,137.1 413.2,140.8 413.6,138.2 414.0,136.9 414.4,139.7 414.8,133.4 415.2,132.7 415.6,137.2 416.0,135.0 416.4,132.5 416.8,134.2 417.2,138.4 417.6,138.2 418.0,140.3 418.4,134.1 418.8,135.4 419.2,133.1 419.6,138.6 420.0,136.4 420.4,135.7 420.8,141.8 421.2,136.6 421.6,137.2 422.0,136.9 422.4,138.3 422.8,138.7 423.2,142.7 423.6,139.4 424.0,140.1 424.4,143.0 424.8,139.2 425.2,141.9 425.6,138.2 426.0,138.8 426.4,137.8 426.8,138.2 427.2,140.0 427.6,137.5 428.0,140.6 428.4,140.4 428.8,141.2 429.2,145.0 429.6,143.7 430.0,146.6 430.4,144.0 430.8,143.2 431.2,141.3 431.6,146.4 432.0,145.2 432.4,143.5 432.8,141.6 433.2,137.1 433.6,139.6 434.0,139.9 434.4,140.8 434.8,139.5 435.2,142.6 435.6,143.1 436.0,140.2 436.4,133.3 436.8,141.5 437.2,135.0 437.6,135.3 438.0,139.4 438.4,137.3 438.8,139.8 439.2,136.5 439.6,138.0 440.0,139.3 440.4,142.7 440.8,146.0 441.2,145.9 441.6,142.4 442.0,141.3 442.4,142.8 442.8,140.6 443.2,145.5 443.6,147.8 444.0,142.6 444.4,151.0 444.8,149.9 445.2,147.5 445.6,145.9 446.0,138.8 446.4,139.8 446.8,142.9 447.2,137.3 447.6,139.7 448.0,140.3 448.4,133.0 448.8,135.9 449.2,135.2 449.6,129.5 450.0,132.0 450.4,130.2 450.8,134.2 451.2,131.6 451.6,133.1 452.0,134.4 452.4,131.9 452.8,137.5 453.2,141.6 453.6,146.5 454.0,148.5 454.4,148.4 454.8,147.8 455.2,147.2 455.6,143.8 456.0,146.0 456.4,147.4 456.8,147.9 457.2,145.5 457.6,147.0 458.0,146.3 458.4,148.5 458.8,148.0 459.2,146.1 459.6,141.0 460.0,142.1 460.4,137.4 460.8,132.4 461.2,141.7 461.6,137.7 462.0,138.3 462.4,137.5 462.8,137.5 463.2,130.1 463.6,132.8 464.0,136.0 464.4,133.9 464.8,135.2 465.2,138.2 465.6,137.0 466.0,137.4 466.4,133.3 466.8,136.1 467.2,137.6 467.6,137.8 468.0,139.1 468.4,139.9 468.8,134.5 469.2,130.3 469.6,133.1 470.0,135.8 470.4,136.5 470.8,132.2 471.2,126.3 471.6,124.4 472.0,125.6 472.4,122.7 472.8,125.4 473.2,128.4 473.6,124.1 474.0,124.8 474.4,122.4 474.8,120.7 475.2,122.9 475.6,123.6 476.0,128.6 476.4,129.0 476.8,130.1 477.2,134.5 477.6,134.7 478.0,139.5 478.4,137.4 478.8,131.6 479.2,132.5 479.6,133.2 480.0,129.3 480.4,131.6 480.8,133.6 481.2,135.7 481.6,135.2 482.0,128.8 482.4,130.2 482.8,128.5 483.2,123.4 483.6,125.4 484.0,133.3 484.4,136.0 484.8,138.6 485.2,139.1 485.6,134.4 486.0,131.0 486.4,131.9 486.8,134.9 487.2,134.4 487.6,134.9 488.0,135.5 488.4,142.7 488.8,147.6 489.2,145.2 489.6,145.0 490.0,144.3 490.4,138.3 490.8,143.3 491.2,143.7 491.6,144.7 492.0,146.6 492.4,146.2 492.8,142.4 493.2,143.8 493.6,140.6 494.0,143.1 494.4,142.0 494.8,143.9 495.2,142.1 495.6,140.9 496.0,143.6 496.4,141.0 496.8,140.6 497.2,137.0 497.6,132.1 498.0,136.9 498.4,134.5 498.8,136.3 499.2,132.0 499.6,132.5 500.0,131.9 500.4,124.5 500.8,128.7 501.2,130.8 501.6,130.8 502.0,130.6 502.4,131.1 502.8,130.8 503.2,129.3 503.6,123.5 504.0,127.4 504.4,129.4 504.8,125.2 505.2,130.1 505.6,127.6 506.0,123.7 506.4,123.6 506.8,119.4 507.2,123.4 507.6,124.6 508.0,125.6 508.4,129.6 508.8,127.3 509.2,128.6 509.6,119.2 510.0,125.3 510.4,123.2 510.8,119.7 511.2,124.2 511.6,119.7 512.0,122.0 512.4,124.2 512.8,122.6 513.2,126.3 513.6,119.6 514.0,124.0 514.4,121.1 514.8,119.2 515.2,121.1 515.6,117.6 516.0,116.0 516.4,112.4 516.8,112.2 517.2,107.5 517.6,107.9 518.0,107.2 518.0,120.7 517.6,123.9 517.2,116.9 516.8,126.6 516.4,122.0 516.0,125.0 515.6,128.8 515.2,133.3 514.8,127.7 514.4,128.6 514.0,131.1 513.6,130.4 513.2,133.9 512.8,134.3 512.4,134.0 512.0,136.3 511.6,133.3 511.2,138.5 510.8,130.5 510.4,130.8 510.0,134.9 509.6,132.7 509.2,139.4 508.8,137.2 508.4,143.3 508.0,135.8 507.6,132.4 507.2,132.9 506.8,127.9 506.4,134.6 506.0,135.1 505.6,136.8 505.2,141.4 504.8,136.8 504.4,140.5 504.0,136.2 503.6,139.9 503.2,139.3 502.8,141.3 502.4,141.2 502.0,142.0 501.6,139.2 501.2,139.7 500.8,141.9 500.4,136.5 500.0,138.9 499.6,144.3 499.2,146.2 498.8,145.1 498.4,142.7 498.0,143.9 497.6,147.7 497.2,146.8 496.8,152.7 496.4,151.4 496.0,155.0 495.6,154.5 495.2,153.4 494.8,154.8 494.4,155.8 494.0,153.3 493.6,151.9 493.2,154.8 492.8,155.0 492.4,154.3 492.0,156.9 491.6,156.3 491.2,151.5 490.8,151.3 490.4,152.5 490.0,152.9 489.6,158.7 489.2,153.3 488.8,161.6 488.4,151.7 488.0,149.7 487.6,148.5 487.2,146.9 486.8,143.6 486.4,143.8 486.0,142.1 485.6,145.5 485.2,150.7 484.8,147.6 484.4,147.0 484.0,146.4 483.6,142.9 483.2,135.2 482.8,139.3 482.4,140.1 482.0,140.8 481.6,147.4 481.2,149.4 480.8,143.3 480.4,145.4 480.0,142.1 479.6,142.8 479.2,145.2 478.8,142.7 478.4,146.1 478.0,148.0 477.6,145.1 477.2,144.6 476.8,142.8 476.4,137.2 476.0,139.7 475.6,131.7 475.2,134.9 474.8,129.2 474.4,132.8 474.0,133.6 473.6,133.6 473.2,140.1 472.8,136.9 472.4,132.5 472.0,135.0 471.6,133.2 471.2,138.7 470.8,146.8 470.4,145.2 470.0,146.4 469.6,147.6 469.2,144.0 468.8,146.0 468.4,148.8 468.0,149.1 467.6,146.2 467.2,145.9 466.8,144.4 466.4,145.6 466.0,149.6 465.6,146.3 465.2,148.6 464.8,146.7 464.4,146.0 464.0,148.1 463.6,144.0 463.2,141.5 462.8,153.9 462.4,151.4 462.0,147.6 461.6,149.5 461.2,148.3 460.8,147.4 460.4,149.4 460.0,151.7 459.6,151.5 459.2,154.3 458.8,155.3 458.4,159.3 458.0,155.8 457.6,157.8 457.2,155.7 456.8,155.3 456.4,155.8 456.0,160.1 455.6,156.8 455.2,155.4 454.8,158.6 454.4,157.9 454.0,158.9 453.6,153.9 453.2,152.3 452.8,146.9 452.4,148.3 452.0,142.9 451.6,140.5 451.2,144.8 450.8,144.4 450.4,141.6 450.0,139.2 449.6,140.9 449.2,143.8 448.8,148.7 448.4,148.4 448.0,152.6 447.6,151.8 447.2,152.2 446.8,152.0 446.4,153.3 446.0,150.7 445.6,157.1 445.2,157.7 444.8,160.5 444.4,159.2 444.0,156.6 443.6,158.5 443.2,157.1 442.8,154.1 442.4,151.9 442.0,151.2 441.6,152.5 441.2,156.4 440.8,156.8 440.4,150.5 440.0,148.5 439.6,148.0 439.2,150.9 438.8,147.5 438.4,147.4 438.0,151.6 437.6,145.9 437.2,146.1 436.8,153.4 436.4,147.5 436.0,149.9 435.6,152.6 435.2,154.0 434.8,152.0 434.4,149.8 434.0,151.9 433.6,149.7 433.2,151.3 432.8,151.2 432.4,152.2 432.0,156.9 431.6,154.9 431.2,157.6 430.8,153.3 430.4,157.6 430.0,157.4 429.6,155.2 429.2,153.2 428.8,151.7 428.4,149.2 428.0,149.8 427.6,150.8 427.2,151.7 426.8,152.3 426.4,149.8 426.0,152.9 425.6,151.3 425.2,156.1 424.8,154.4 424.4,155.9 424.0,149.2 423.6,149.5 423.2,150.8 422.8,151.9 422.4,146.8 422.0,151.2 421.6,145.7 421.2,148.7 420.8,151.6 420.4,152.9 420.0,146.4 419.6,151.2 419.2,147.4 418.8,143.4 418.4,148.3 418.0,148.8 417.6,148.1 417.2,150.9 416.8,144.2 416.4,143.2 416.0,142.9 415.6,145.7 415.2,150.4 414.8,147.0 414.4,147.0 414.0,147.2 413.6,146.2 413.2,151.4 412.8,151.2 412.4,150.5 412.0,144.6 411.6,144.9 411.2,144.0 410.8,140.6 410.4,142.4 410.0,137.9 409.6,137.2 409.2,142.0 408.8,139.0 408.4,141.0 408.0,147.3 407.6,143.1 407.2,144.4 406.8,148.4 406.4,140.6 406.0,140.4 405.6,139.8 405.2,141.6 404.8,144.6 404.4,144.7 404.0,142.4 403.6,141.5 403.2,138.0 402.8,139.6 402.4,140.0 402.0,141.1 401.6,145.7 401.2,144.4 400.8,140.1 400.4,140.7 400.0,142.0 399.6,143.5 399.2,140.5 398.8,137.8 398.4,138.1 398.0,140.9 397.6,142.3 397.2,147.3 396.8,142.6 396.4,143.4 396.0,146.5 395.6,140.5 395.2,141.0 394.8,145.3 394.4,143.8 394.0,144.4 393.6,145.4 393.2,150.7 392.8,151.9 392.4,154.0 392.0,153.7 391.6,149.9 391.2,152.4 390.8,149.2 390.4,150.7 390.0,154.5 389.6,150.9 389.2,147.9 388.8,153.4 388.4,152.3 388.0,152.8 387.6,156.9 387.2,155.0 386.8,153.2 386.4,151.6 386.0,151.7 385.6,150.3 385.2,146.9 384.8,144.2 384.4,143.3 384.0,145.1 383.6,148.5 383.2,149.6 382.8,153.9 382.4,155.9 382.0,153.1 381.6,153.7 381.2,155.1 380.8,157.1 380.4,160.9 380.0,162.8 379.6,162.5 379.2,158.4 378.8,155.5 378.4,153.8 378.0,154.5 377.6,159.9 377.2,162.1 376.8,161.7 376.4,160.4 376.0,159.3 375.6,151.7 375.2,152.9 374.8,156.8 374.4,157.3 374.0,151.0 373.6,151.4 373.2,145.9 372.8,143.9 372.4,142.6 372.0,144.3 371.6,147.4 371.2,149.6 370.8,145.8 370.4,148.4 370.0,151.8 369.6,152.8 369.2,151.4 368.8,153.8 368.4,142.5 368.0,147.9 367.6,153.4 367.2,148.1 366.8,146.1 366.4,150.8 366.0,147.6 365.6,142.9 365.2,144.5 364.8,143.0 364.4,140.0 364.0,149.2 363.6,146.8 363.2,146.1 362.8,148.1 362.4,147.5 362.0,149.2 361.6,150.3 361.2,155.0 360.8,150.8 360.4,149.2 360.0,145.1 359.6,147.5 359.2,148.5 358.8,141.8 358.4,143.0 358.0,141.0 357.6,143.0 357.2,141.6 356.8,141.2 356.4,140.1 356.0,143.1 355.6,143.0 355.2,140.5 354.8,136.9 354.4,133.8 354.0,134.7 353.6,137.3 353.2,137.9 352.8,138.0 352.4,138.3 352.0,135.0 351.6,132.6 351.2,129.8 350.8,128.0 350.4,128.0 350.0,129.2 349.6,132.5 349.2,138.9 348.8,136.2 348.4,136.4 348.0,136.3 347.6,133.0 347.2,134.0 346.8,131.1 346.4,129.1 346.0,127.7 345.6,131.3 345.2,134.9 344.8,137.7 344.4,139.2 344.0,130.9 343.6,135.7 343.2,131.8 342.8,132.2 342.4,133.0 342.0,138.2 341.6,137.0 341.2,134.5 340.8,133.9 340.4,132.7 340.0,136.0 339.6,133.8 339.2,132.5 338.8,134.0 338.4,129.9 338.0,134.4 337.6,133.2 337.2,133.4 336.8,136.8 336.4,137.1 336.0,136.8 335.6,138.5 335.2,139.4 334.8,135.4 334.4,139.5 334.0,138.3 333.6,136.0 333.2,138.9 332.8,135.8 332.4,136.1 332.0,139.6 331.6,135.6 331.2,143.0 330.8,139.0 330.4,144.8 330.0,146.2 329.6,149.8 329.2,149.3 328.8,144.9 328.4,140.4 328.0,141.4 327.6,142.1 327.2,145.1 326.8,150.3 326.4,151.6 326.0,146.0 325.6,142.0 325.2,140.5 324.8,144.4 324.4,137.1 324.0,142.3 323.6,139.0 323.2,139.5 322.8,139.7 322.4,142.2 322.0,141.1 321.6,144.1 321.2,147.1 320.8,144.0 320.4,142.2 320.0,143.4 319.6,142.4 319.2,143.2 318.8,143.2 318.4,142.0 318.0,141.7 317.6,147.6 317.2,147.7 316.8,149.6 316.4,150.1 316.0,143.2 315.6,138.5 315.2,139.1 314.8,139.3 314.4,142.3 314.0,141.3 313.6,142.0 313.2,145.4 312.8,148.2 312.4,150.4 312.0,149.1 311.6,143.5 311.2,141.8 310.8,143.3 310.4,135.7 310.0,142.6 309.6,137.3 309.2,141.5 308.8,139.2 308.4,134.3 308.0,136.0 307.6,137.2 307.2,133.9 306.8,137.6 306.4,136.1 306.0,133.1 305.6,134.3 305.2,133.8 304.8,138.2 304.4,135.2 304.0,131.2 303.6,133.2 303.2,135.3 302.8,136.6 302.4,135.0 302.0,139.2 301.6,139.3 301.2,136.9 300.8,142.8 300.4,143.9 300.0,144.6 299.6,143.5 299.2,136.4 298.8,135.1 298.4,134.5 298.0,135.6 297.6,137.9 297.2,136.7 296.8,134.3 296.4,133.7 296.0,137.6 295.6,135.2 295.2,133.7 294.8,131.2 294.4,132.0 294.0,134.7 293.6,137.4 293.2,135.8 292.8,133.2 292.4,130.2 292.0,129.9 291.6,124.0 291.2,125.5 290.8,124.0 290.4,124.6 290.0,124.9 289.6,125.6 289.2,127.5 288.8,124.3 288.4,127.0 288.0,124.0 287.6,125.1 287.2,124.8 286.8,123.2 286.4,122.4 286.0,121.9 285.6,124.3 285.2,123.7 284.8,123.5 284.4,120.8 284.0,123.5 283.6,125.1 283.2,126.2 282.8,124.0 282.4,124.3 282.0,124.3 281.6,124.9 281.2,124.8 280.8,126.9 280.4,126.9 280.0,124.3 279.6,128.4 279.2,122.4 278.8,120.8 278.4,118.0 278.0,119.4 277.6,122.8 277.2,120.8 276.8,122.0 276.4,118.6 276.0,113.2 275.6,114.1 275.2,109.1 274.8,111.8 274.4,119.1 274.0,116.8 273.6,120.1 273.2,114.9 272.8,114.7 272.4,115.5 272.0,115.6 271.6,117.4 271.2,119.1 270.8,119.7 270.4,116.2 270.0,115.0 269.6,117.1 269.2,117.7 268.8,122.3 268.4,125.9 268.0,125.0 267.6,123.0 267.2,119.3 266.8,122.7 266.4,117.0 266.0,118.9 265.6,124.3 265.2,122.7 264.8,124.4 264.4,127.7 264.0,124.7 263.6,128.4 263.2,118.3 262.8,119.1 262.4,112.2 262.0,114.2 261.6,111.6 261.2,107.3 260.8,105.8 260.4,105.3 260.0,102.8 259.6,103.1 259.2,98.1 258.8,97.4 258.4,101.4 258.0,104.6 257.6,112.9 257.2,113.7 256.8,112.8 256.4,112.5 256.0,117.0 255.6,123.6 255.2,128.5 254.8,131.2 254.4,134.9 254.0,132.1 253.6,132.1 253.2,133.7 252.8,130.0 252.4,133.3 252.0,139.5 251.6,142.3 251.2,136.1 250.8,139.8 250.4,135.9 250.0,135.4 249.6,140.6 249.2,140.9 248.8,133.4 248.4,131.4 248.0,132.6 247.6,128.7 247.2,123.3 246.8,123.7 246.4,121.5 246.0,120.6 245.6,127.5 245.2,124.8 244.8,127.4 244.4,127.6 244.0,121.8 243.6,121.7 243.2,125.0 242.8,123.3 242.4,123.8 242.0,122.9 241.6,125.5 241.2,127.6 240.8,125.7 240.4,128.0 240.0,125.1 239.6,119.0 239.2,114.6 238.8,110.9 238.4,114.6 238.0,114.3 237.6,117.5 237.2,119.8 236.8,124.6 236.4,119.0 236.0,132.1 235.6,125.3 235.2,125.8 234.8,129.1 234.4,125.4 234.0,130.5 233.6,131.9 233.2,131.1 232.8,131.2 232.4,131.5 232.0,132.3 231.6,135.6 231.2,133.7 230.8,136.7 230.4,136.0 230.0,134.3 229.6,137.4 229.2,133.7 228.8,137.2 228.4,135.2 228.0,140.3 227.6,138.5 227.2,135.0 226.8,134.5 226.4,135.4 226.0,135.0 225.6,130.3 225.2,133.5 224.8,134.2 224.4,132.9 224.0,133.5 223.6,135.4 223.2,131.9 222.8,134.7 222.4,134.9 222.0,134.1 221.6,139.6 221.2,140.4 220.8,139.3 220.4,136.2 220.0,135.1 219.6,138.6 219.2,133.1 218.8,132.9 218.4,134.4 218.0,132.7 217.6,128.9 217.2,128.1 216.8,125.8 216.4,123.9 216.0,126.9 215.6,124.2 215.2,120.0 214.8,121.5 214.4,121.3 214.0,122.3 213.6,129.2 213.2,124.4 212.8,126.2 212.4,122.1 212.0,129.2 211.6,128.5 211.2,125.8 210.8,130.9 210.4,131.1 210.0,135.3 209.6,135.8 209.2,137.0 208.8,139.4 208.4,130.2 208.0,131.1 207.6,134.6 207.2,131.3 206.8,131.4 206.4,125.8 206.0,133.1 205.6,123.4 205.2,125.0 204.8,129.9 204.4,124.8 204.0,128.6 203.6,127.2 203.2,129.4 202.8,130.8 202.4,133.0 202.0,135.0 201.6,133.7 201.2,137.0 200.8,136.7 200.4,141.4 200.0,144.7 199.6,143.7 199.2,140.9 198.8,141.9 198.4,139.3 198.0,142.4 197.6,140.9 197.2,143.7 196.8,147.1 196.4,144.8 196.0,138.0 195.6,143.3 195.2,140.9 194.8,144.2 194.4,147.1 194.0,146.1 193.6,146.1 193.2,144.9 192.8,146.4 192.4,150.7 192.0,150.3 191.6,151.9 191.2,146.6 190.8,143.2 190.4,141.6 190.0,146.1 189.6,141.0 189.2,142.0 188.8,144.6 188.4,149.0 188.0,148.1 187.6,146.1 187.2,145.4 186.8,142.6 186.4,145.6 186.0,144.2 185.6,144.0 185.2,143.6 184.8,149.5 184.4,145.3 184.0,147.2 183.6,144.9 183.2,144.3 182.8,142.7 182.4,142.8 182.0,146.6 181.6,143.6 181.2,150.9 180.8,149.5 180.4,145.9 180.0,147.7 179.6,149.7 179.2,146.5 178.8,147.3 178.4,145.3 178.0,140.8 177.6,146.4 177.2,141.2 176.8,138.8 176.4,137.3 176.0,139.4 175.6,136.3 175.2,142.1 174.8,137.5 174.4,140.8 174.0,142.1 173.6,141.1 173.2,139.3 172.8,139.2 172.4,144.0 172.0,140.0 171.6,144.3 171.2,142.0 170.8,141.3 170.4,139.3 170.0,142.2 169.6,139.9 169.2,140.7 168.8,143.5 168.4,147.4 168.0,145.4 167.6,147.7 167.2,140.6 166.8,136.6 166.4,143.0 166.0,140.6 165.6,140.3 165.2,142.6 164.8,138.9 164.4,134.8 164.0,136.6 163.6,134.5 163.2,128.8 162.8,132.5 162.4,135.3 162.0,141.7 161.6,139.9 161.2,140.4 160.8,139.3 160.4,138.3 160.0,145.1 159.6,146.7 159.2,145.2 158.8,143.7 158.4,142.9 158.0,135.7 157.6,134.8 157.2,143.5 156.8,141.3 156.4,143.8 156.0,143.9 155.6,144.3 155.2,143.3 154.8,138.6 154.4,139.5 154.0,142.1 153.6,142.1 153.2,138.6 152.8,136.0 152.4,135.7 152.0,139.5 151.6,141.0 151.2,141.6 150.8,140.6 150.4,139.6 150.0,140.7 149.6,143.6 149.2,143.8 148.8,141.7 148.4,142.1 148.0,141.6 147.6,142.4 147.2,145.4 146.8,150.0 146.4,151.9 146.0,150.9 145.6,155.1 145.2,153.9 144.8,153.8 144.4,159.4 144.0,157.1 143.6,155.4 143.2,152.2 142.8,156.0 142.4,155.4 142.0,157.6 141.6,158.3 141.2,157.1 140.8,156.6 140.4,159.8 140.0,155.6 139.6,156.8 139.2,160.8 138.8,163.9 138.4,165.4 138.0,169.6 137.6,170.9 137.2,166.8 136.8,164.6 136.4,169.1 136.0,168.7 135.6,172.5 135.2,174.3 134.8,171.7 134.4,173.4 134.0,172.5 133.6,175.0 133.2,176.0 132.8,177.1 132.4,178.4 132.0,180.1 131.6,184.5 131.2,185.9 130.8,191.0 130.4,190.3 130.0,189.8 129.6,191.1 129.2,190.2 128.8,190.1 128.4,193.9 128.0,191.7 127.6,191.5 127.2,194.8 126.8,194.2 126.4,196.9 126.0,198.8 125.6,204.7 125.2,209.6 124.8,209.3 124.4,212.0 124.0,209.0 123.6,207.0 123.2,204.8 122.8,206.1 122.4,208.1 122.0,211.2 121.6,210.3 121.2,205.8 120.8,204.8 120.4,198.8 120.0,198.4 119.6,197.0 119.2,195.8 118.8,195.4 118.4,197.9 118.0,196.3 117.6,195.8 117.2,196.0 116.8,190.9 116.4,192.3 116.0,190.6 115.6,191.9 115.2,193.1 114.8,194.4 114.4,196.0 114.0,189.9 113.6,188.1 113.2,187.0 112.8,182.6 112.4,182.5 112.0,186.6 111.6,185.7 111.2,187.7 110.8,189.8 110.4,186.5 110.0,189.1 109.6,188.6 109.2,188.2 108.8,190.1 108.4,194.1 108.0,193.4 107.6,193.8 107.2,196.5 106.8,196.3 106.4,197.5 106.0,199.8 105.6,198.6 105.2,197.8 104.8,199.4 104.4,200.1 104.0,204.6 103.6,204.1 103.2,205.4 102.8,204.5 102.4,206.9 102.0,206.7 101.6,207.2 101.2,209.0 100.8,208.2 100.4,210.1 100.0,208.5 99.6,209.4 99.2,209.5 98.8,210.7 98.4,211.7 98.0,213.7 97.6,215.9 97.2,217.0 96.8,219.0 96.4,217.5 96.0,215.4 95.6,215.0 95.2,213.7 94.8,213.0 94.4,216.4 94.0,216.9 93.6,217.0 93.2,217.9 92.8,220.5 92.4,222.0 92.0,226.8 91.6,233.4 91.2,239.0 90.8,244.4 90.4,250.1 90.0,254.1"/>
<polyline fill="none" stroke="#5e6163" stroke-width="1.0" stroke-linejoin="round" points="82.0,362.0 82.3,357.3 82.6,352.6 82.8,347.6 83.1,343.1 83.4,338.7 83.7,334.8 84.0,331.2 84.2,326.4 84.5,322.1 84.8,318.2 85.1,313.9 85.4,309.8 85.6,305.1 85.9,301.3 86.2,297.2 86.5,292.0 86.8,288.5 87.0,283.7 87.3,280.6 87.6,276.9 87.9,274.4 88.2,270.4 88.4,268.3 88.7,265.2 89.0,262.0 89.3,257.9 89.6,256.8 89.8,254.5 90.1,252.2 90.4,247.9 90.7,244.6 91.0,239.8 91.2,235.9 91.5,233.2 91.8,227.5 92.1,224.0 92.4,221.1 92.6,218.8 92.9,218.1 93.2,217.7 93.5,216.3 93.8,214.0 94.0,214.3 94.3,215.0 94.6,210.9 94.9,212.9 95.2,212.2 95.4,212.0 95.7,215.4 96.0,214.6 96.3,212.8 96.6,214.6 96.8,215.6 97.1,214.4 97.4,214.5 97.7,213.4 98.0,213.1 98.2,213.1 98.5,209.3 98.8,210.0 99.1,208.5 99.4,208.7 99.6,206.8 99.9,206.9 100.2,207.1 100.5,207.9 100.8,207.7 101.0,203.8 101.3,204.3 101.6,206.1 101.9,201.5 102.2,202.5 102.4,202.0 102.7,203.7 103.0,202.6 103.3,200.6 103.6,199.8 103.8,199.4 104.1,201.7 104.4,198.2 104.7,197.1 105.0,197.4 105.2,195.8 105.5,196.3 105.8,194.3 106.1,195.5 106.4,193.2 106.6,195.4 106.9,194.5 107.2,193.0 107.5,194.6 107.8,192.1 108.0,194.5 108.3,191.4 108.6,192.1 108.9,186.9 109.2,189.2 109.4,184.6 109.7,183.9 110.0,185.7 110.3,184.4 110.6,185.8 110.8,190.0 111.1,183.0 111.4,182.9 111.7,184.4 112.0,183.9 112.2,181.7 112.5,181.1 112.8,183.6 113.1,184.6 113.4,182.1 113.6,184.7 113.9,186.2 114.2,185.8 114.5,189.6 114.8,189.1 115.0,193.9 115.3,193.7 115.6,193.6 115.9,199.6 116.2,190.6 116.4,185.0 116.7,187.0 117.0,190.6 117.3,185.0 117.6,191.6 117.8,184.3 118.1,190.2 118.4,185.7 118.7,190.9 119.0,189.5 119.2,186.4 119.5,193.2 119.8,194.1 120.1,191.8 120.4,193.0 120.6,195.9 120.9,195.3 121.2,201.5 121.5,228.5 121.8,202.5 122.0,201.5 122.3,202.7 122.6,200.0 122.9,206.7 123.2,202.1 123.4,205.4 123.7,203.2 124.0,201.3 124.3,201.3 124.6,200.7 124.8,201.9 125.1,199.7 125.4,198.4 125.7,193.2 126.0,193.1 126.2,196.6 126.5,188.3 126.8,186.0 127.1,188.3 127.4,191.6 127.6,183.1 127.9,187.3 128.2,184.0 128.5,180.2 128.8,187.2 129.0,185.7 129.3,185.9 129.6,221.2 129.9,185.4 130.2,181.7 130.4,184.7 130.7,179.9 131.0,180.2 131.3,185.9 131.6,181.1 131.8,181.3 132.1,178.9 132.4,177.6 132.7,176.3 133.0,178.6 133.2,172.8 133.5,172.0 133.8,172.8 134.1,176.7 134.4,174.3 134.6,170.1 134.9,165.6 135.2,163.2 135.5,171.4 135.8,170.8 136.0,165.1 136.3,166.0 136.6,164.2 136.9,163.3 137.2,183.9 137.4,159.2 137.7,168.0 138.0,157.5 138.3,163.9 138.6,160.9 138.8,162.9 139.1,166.6 139.4,163.1 139.7,152.3 140.0,150.5 140.2,159.2 140.5,151.3 140.8,154.0 141.1,157.0 141.4,178.4 141.6,144.0 141.9,151.1 142.2,151.0 142.5,149.8 142.8,151.8 143.0,148.4 143.3,144.0 143.6,147.8 143.9,144.4 144.2,143.1 144.4,151.0 144.7,147.1 145.0,147.1 145.3,141.3 145.6,141.7 145.8,138.9 146.1,138.9 146.4,142.9 146.7,140.4 147.0,142.1 147.2,141.1 147.5,146.4 147.8,133.6 148.1,143.6 148.4,138.3 148.6,139.2 148.9,131.6 149.2,136.2 149.5,140.5 149.8,137.8 150.0,179.6 150.3,136.7 150.6,141.4 150.9,137.9 151.2,127.1 151.4,134.9 151.7,129.1 152.0,124.7 152.3,133.7 152.6,142.6 152.8,135.8 153.1,131.2 153.4,132.8 153.7,142.2 154.0,138.7 154.2,138.6 154.5,138.2 154.8,137.7 155.1,139.4 155.4,136.9 155.6,137.3 155.9,132.7 156.2,139.5 156.5,133.0 156.8,139.2 157.0,130.2 157.3,134.5 157.6,135.3 157.9,128.1 158.2,140.9 158.4,138.9 158.7,132.8 159.0,138.4 159.3,136.1 159.6,124.8 159.8,173.9 160.1,135.2 160.4,133.9 160.7,128.3 161.0,132.5 161.2,133.2 161.5,139.9 161.8,137.1 162.1,137.5 162.4,145.1 162.6,135.4 162.9,134.1 163.2,127.9 163.5,142.0 163.8,141.7 164.0,140.6 164.3,140.4 164.6,137.9 164.9,139.0 165.2,136.5 165.4,136.3 165.7,136.9 166.0,142.5 166.3,139.2 166.6,136.1 166.8,135.4 167.1,134.2 167.4,144.6 167.7,138.5 168.0,136.6 168.2,135.9 168.5,132.6 168.8,135.9 169.1,121.1 169.4,167.0 169.6,135.9 169.9,136.8 170.2,139.3 170.5,129.6 170.8,135.2 171.0,132.4 171.3,142.0 171.6,134.4 171.9,139.8 172.2,142.2 172.4,134.5 172.7,132.8 173.0,135.5 173.3,133.5 173.6,130.1 173.8,136.7 174.1,144.7 174.4,133.9 174.7,135.3 175.0,132.9 175.2,140.9 175.5,134.9 175.8,135.1 176.1,144.8 176.4,134.8 176.6,143.5 176.9,144.8 177.2,140.2 177.5,142.8 177.8,148.9 178.0,140.5 178.3,138.0 178.6,135.4 178.9,140.7 179.2,146.5 179.4,144.4 179.7,137.4 180.0,138.4 180.3,139.6 180.6,145.2 180.8,144.3 181.1,146.7 181.4,144.8 181.7,143.0 182.0,143.6 182.2,144.3 182.5,141.1 182.8,143.2 183.1,149.8 183.4,144.1 183.6,143.4 183.9,134.0 184.2,142.7 184.5,130.2 184.8,134.6 185.0,142.5 185.3,142.5 185.6,137.9 185.9,132.9 186.2,137.0 186.4,134.3 186.7,136.9 187.0,144.3 187.3,136.1 187.6,132.8 187.8,130.2 188.1,134.1 188.4,133.0 188.7,129.9 189.0,136.7 189.2,130.6 189.5,139.1 189.8,137.1 190.1,139.5 190.4,132.6 190.6,136.8 190.9,132.8 191.2,133.4 191.5,133.9 191.8,130.9 192.0,130.1 192.3,138.7 192.6,133.5 192.9,135.4 193.2,139.1 193.4,129.5 193.7,133.7 194.0,138.5 194.3,138.5 194.6,133.8 194.8,139.8 195.1,139.1 195.4,133.6 195.7,132.4 196.0,137.6 196.2,136.6 196.5,126.9 196.8,140.7 197.1,137.2 197.4,140.7 197.6,134.8 197.9,135.8 198.2,133.7 198.5,148.3 198.8,139.0 199.0,146.0 199.3,136.7 199.6,138.6 199.9,132.7 200.2,137.7 200.4,142.1 200.7,130.8 201.0,139.4 201.3,137.2 201.6,132.6 201.8,134.6 202.1,133.1 202.4,132.2 202.7,127.0 203.0,125.8 203.2,127.4 203.5,127.4 203.8,125.5 204.1,127.6 204.4,127.4 204.6,117.5 204.9,124.6 205.2,121.9 205.5,120.3 205.8,129.3 206.0,124.6 206.3,132.3 206.6,123.8 206.9,128.3 207.2,126.3 207.4,122.4 207.7,127.7 208.0,125.9 208.3,128.9 208.6,127.1 208.8,123.2 209.1,128.4 209.4,129.5 209.7,131.5 210.0,137.6 210.2,129.1 210.5,122.9 210.8,128.8 211.1,119.1 211.4,116.2 211.6,125.6 211.9,130.7 212.2,119.7 212.5,118.5 212.8,118.7 213.0,115.3 213.3,121.5 213.6,114.7 213.9,115.2 214.2,120.5 214.4,114.7 214.7,116.7 215.0,111.0 215.3,111.2 215.6,108.6 215.8,124.5 216.1,117.3 216.4,122.1 216.7,122.9 217.0,124.4 217.2,124.5 217.5,130.8 217.8,118.8 218.1,117.5 218.4,120.7 218.6,120.6 218.9,129.9 219.2,132.1 219.5,127.1 219.8,127.3 220.0,131.2 220.3,138.2 220.6,122.0 220.9,134.7 221.2,129.5 221.4,135.7 221.7,126.9 222.0,127.1 222.3,122.7 222.6,125.4 222.8,137.4 223.1,134.8 223.4,129.4 223.7,125.8 224.0,121.6 224.2,126.4 224.5,150.1 224.8,126.9 225.1,128.0 225.4,123.8 225.6,129.0 225.9,128.0 226.2,131.9 226.5,136.4 226.8,128.1 227.0,128.2 227.3,129.8 227.6,128.5 227.9,125.4 228.2,128.4 228.4,126.4 228.7,133.0 229.0,128.9 229.3,129.5 229.6,128.9 229.8,128.7 230.1,126.2 230.4,129.1 230.7,124.8 231.0,130.2 231.2,128.0 231.5,121.6 231.8,125.1 232.1,120.0 232.4,126.5 232.6,127.5 232.9,120.4 233.2,127.7 233.5,129.6 233.8,127.4 234.0,125.7 234.3,123.8 234.6,120.2 234.9,121.1 235.2,118.5 235.4,119.4 235.7,114.3 236.0,117.6 236.3,118.2 236.6,115.8 236.8,114.7 237.1,116.4 237.4,106.7 237.7,115.9 238.0,116.7 238.2,117.5 238.5,118.6 238.8,113.6 239.1,115.3 239.4,116.8 239.6,117.4 239.9,116.7 240.2,111.1 240.5,119.9 240.8,123.1 241.0,120.5 241.3,116.6 241.6,107.8 241.9,121.5 242.2,119.6 242.4,111.3 242.7,122.1 243.0,112.5 243.3,114.1 243.6,117.4 243.8,126.4 244.1,118.8 244.4,122.3 244.7,126.2 245.0,126.8 245.2,119.8 245.5,120.9 245.8,115.8 246.1,116.7 246.4,121.2 246.6,123.0 246.9,124.7 247.2,128.6 247.5,123.2 247.8,126.6 248.0,132.5 248.3,133.1 248.6,137.0 248.9,135.4 249.2,134.0 249.4,136.9 249.7,133.9 250.0,129.9 250.3,139.1 250.6,134.4 250.8,137.0 251.1,126.7 251.4,130.1 251.7,128.8 252.0,127.7 252.2,124.1 252.5,130.4 252.8,136.8 253.1,134.3 253.4,131.2 253.6,131.3 253.9,133.0 254.2,118.0 254.5,128.3 254.8,129.3 255.0,128.2 255.3,128.9 255.6,123.9 255.9,117.5 256.2,116.3 256.4,117.7 256.7,111.5 257.0,110.8 257.3,109.1 257.6,109.2 257.8,97.3 258.1,97.9 258.4,97.6 258.7,101.9 259.0,93.4 259.2,98.3 259.5,90.6 259.8,95.0 260.1,96.0 260.4,99.2 260.6,103.1 260.9,94.0 261.2,97.9 261.5,102.6 261.8,100.2 262.0,100.1 262.3,115.7 262.6,115.6 262.9,117.7 263.2,113.4 263.4,120.9 263.7,116.4 264.0,122.9 264.3,115.3 264.6,117.6 264.8,120.2 265.1,117.6 265.4,121.6 265.7,121.1 266.0,116.3 266.2,120.7 266.5,119.7 266.8,124.9 267.1,118.7 267.4,117.4 267.6,124.9 267.9,130.4 268.2,131.7 268.5,122.9 268.8,119.5 269.0,123.0 269.3,114.1 269.6,110.8 269.9,115.4 270.2,116.0 270.4,110.7 270.7,104.1 271.0,104.8 271.3,112.6 271.6,107.4 271.8,108.6 272.1,111.2 272.4,112.2 272.7,108.0 273.0,108.7 273.2,105.3 273.5,110.1 273.8,108.4 274.1,115.0 274.4,108.0 274.6,105.7 274.9,106.9 275.2,109.0 275.5,112.8 275.8,104.5 276.0,106.0 276.3,108.6 276.6,122.0 276.9,114.8 277.2,111.6 277.4,113.7 277.7,119.9 278.0,110.5 278.3,110.8 278.6,117.4 278.8,113.6 279.1,114.3 279.4,112.5 279.7,125.9 280.0,127.1 280.2,123.0 280.5,121.8 280.8,111.1 281.1,121.3 281.4,117.6 281.6,119.3 281.9,120.3 282.2,117.0 282.5,111.8 282.8,120.2 283.0,116.0 283.3,119.7 283.6,118.4 283.9,119.5 284.2,111.0 284.4,124.8 284.7,120.8 285.0,123.8 285.3,128.2 285.6,121.8 285.8,109.3 286.1,117.7 286.4,115.7 286.7,117.0 287.0,121.0 287.2,112.9 287.5,122.1 287.8,115.4 288.1,123.2 288.4,121.1 288.6,120.8 288.9,122.6 289.2,121.4 289.5,120.7 289.8,115.0 290.0,123.1 290.3,129.6 290.6,130.2 290.9,126.3 291.2,123.5 291.4,119.0 291.7,127.9 292.0,122.9 292.3,122.2 292.6,117.9 292.8,119.6 293.1,116.8 293.4,122.9 293.7,121.0 294.0,126.9 294.2,137.8 294.5,128.5 294.8,128.6 295.1,132.6 295.4,134.1 295.6,126.9 295.9,132.2 296.2,137.3 296.5,136.6 296.8,134.9 297.0,140.8 297.3,131.2 297.6,135.1 297.9,133.6 298.2,142.0 298.4,127.7 298.7,131.4 299.0,133.4 299.3,138.7 299.6,139.1 299.8,142.2 300.1,131.8 300.4,141.5 300.7,135.5 301.0,135.0 301.2,139.4 301.5,134.4 301.8,127.4 302.1,132.2 302.4,125.9 302.6,129.6 302.9,135.0 303.2,135.6 303.5,139.0 303.8,130.1 304.0,124.6 304.3,127.2 304.6,128.5 304.9,128.5 305.2,138.7 305.4,134.2 305.7,127.3 306.0,134.2 306.3,127.4 306.6,129.4 306.8,129.3 307.1,135.6 307.4,134.7 307.7,140.3 308.0,136.7 308.2,136.8 308.5,137.9 308.8,129.7 309.1,134.0 309.4,131.3 309.6,135.8 309.9,131.6 310.2,145.4 310.5,137.2 310.8,131.3 311.0,128.7 311.3,135.6 311.6,136.3 311.9,134.8 312.2,137.8 312.4,136.1 312.7,140.8 313.0,136.1 313.3,138.2 313.6,141.8 313.8,149.2 314.1,135.4 314.4,138.4 314.7,136.1 315.0,141.6 315.2,134.5 315.5,136.3 315.8,139.9 316.1,135.6 316.4,134.9 316.6,135.2 316.9,127.8 317.2,131.0 317.5,134.6 317.8,137.8 318.0,136.8 318.3,131.9 318.6,135.8 318.9,141.0 319.2,138.9 319.4,136.6 319.7,133.5 320.0,140.0 320.3,134.8 320.6,131.0 320.8,132.4 321.1,141.9 321.4,137.8 321.7,140.5 322.0,134.3 322.2,142.2 322.5,136.6 322.8,138.0 323.1,146.4 323.4,137.6 323.6,132.4 323.9,133.0 324.2,138.1 324.5,141.1 324.8,134.2 325.0,127.7 325.3,133.6 325.6,134.7 325.9,149.1 326.2,138.2 326.4,134.4 326.7,136.9 327.0,132.2 327.3,140.6 327.6,144.7 327.8,138.6 328.1,136.7 328.4,137.4 328.7,143.4 329.0,131.7 329.2,133.4 329.5,134.6 329.8,135.9 330.1,131.0 330.4,132.9 330.6,128.2 330.9,128.8 331.2,126.5 331.5,124.3 331.8,129.1 332.0,132.7 332.3,125.9 332.6,129.3 332.9,134.2 333.2,128.2 333.4,133.8 333.7,127.6 334.0,135.3 334.3,138.7 334.6,139.1 334.8,130.3 335.1,133.1 335.4,129.8 335.7,128.2 336.0,133.8 336.2,123.2 336.5,131.9 336.8,127.4 337.1,133.7 337.4,130.3 337.6,128.3 337.9,129.8 338.2,131.0 338.5,127.5 338.8,131.0 339.0,127.3 339.3,122.4 339.6,134.2 339.9,134.0 340.2,131.1 340.4,131.5 340.7,134.9 341.0,130.1 341.3,129.0 341.6,131.6 341.8,136.1 342.1,126.2 342.4,137.0 342.7,130.7 343.0,128.8 343.2,137.8 343.5,131.7 343.8,127.8 344.1,130.6 344.4,133.6 344.6,134.6 344.9,128.4 345.2,132.4 345.5,132.2 345.8,125.9 346.0,132.7 346.3,131.8 346.6,129.2 346.9,127.9 347.2,129.2 347.4,132.2 347.7,128.4 348.0,127.2 348.3,131.5 348.6,128.6 348.8,132.8 349.1,132.1 349.4,130.4 349.7,138.8 350.0,127.0 350.2,134.0 350.5,127.6 350.8,139.8 351.1,138.6 351.4,124.8 351.6,127.5 351.9,133.9 352.2,134.0 352.5,133.4 352.8,129.4 353.0,130.3 353.3,132.3 353.6,129.6 353.9,134.9 354.2,120.7 354.4,130.8 354.7,123.7 355.0,131.5 355.3,128.6 355.6,128.0 355.8,135.1 356.1,131.0 356.4,132.1 356.7,129.9 357.0,136.0 357.2,138.6 357.5,140.0 357.8,138.2 358.1,143.7 358.4,141.4 358.6,139.5 358.9,142.6 359.2,144.5 359.5,141.7 359.8,141.5 360.0,141.4 360.3,142.1 360.6,138.6 360.9,145.8 361.2,140.1 361.4,142.1 361.7,137.0 362.0,140.2 362.3,139.5 362.6,135.8 362.8,144.6 363.1,139.8 363.4,146.5 363.7,142.9 364.0,136.3 364.2,135.5 364.5,138.8 364.8,136.3 365.1,136.9 365.4,137.7 365.6,131.6 365.9,136.7 366.2,128.4 366.5,138.1 366.8,135.0 367.0,131.5 367.3,135.0 367.6,138.2 367.9,170.3 368.2,134.4 368.4,138.2 368.7,134.0 369.0,138.4 369.3,146.4 369.6,136.2 369.8,143.3 370.1,136.8 370.4,142.7 370.7,140.0 371.0,140.8 371.2,144.1 371.5,149.1 371.8,143.2 372.1,142.6 372.4,137.3 372.6,145.6 372.9,142.8 373.2,148.6 373.5,144.5 373.8,153.7 374.0,138.4 374.3,144.4 374.6,148.8 374.9,146.2 375.2,144.6 375.4,145.8 375.7,142.1 376.0,149.8 376.3,160.4 376.6,154.4 376.8,145.4 377.1,146.4 377.4,149.9 377.7,154.2 378.0,147.5 378.2,147.0 378.5,153.0 378.8,152.7 379.1,147.9 379.4,145.4 379.6,143.7 379.9,155.5 380.2,139.6 380.5,150.9 380.8,146.9 381.0,152.0 381.3,155.6 381.6,151.1 381.9,141.2 382.2,150.2 382.4,154.3 382.7,147.1 383.0,144.9 383.3,146.7 383.6,139.5 383.8,150.5 384.1,137.0 384.4,142.8 384.7,147.7 385.0,145.8 385.2,148.4 385.5,148.5 385.8,147.4 386.1,150.3 386.4,136.3 386.6,144.9 386.9,144.6 387.2,149.7 387.5,149.2 387.8,143.8 388.0,143.9 388.3,150.8 388.6,149.7 388.9,147.0 389.2,156.6 389.4,158.1 389.7,143.8 390.0,151.1 390.3,157.6 390.6,150.5 390.8,149.2 391.1,147.7 391.4,145.4 391.7,145.1 392.0,144.6 392.2,149.8 392.5,142.8 392.8,141.8 393.1,136.8 393.4,141.5 393.6,137.8 393.9,140.9 394.2,146.6 394.5,145.9 394.8,146.9 395.0,145.8 395.3,140.7 395.6,138.2 395.9,135.5 396.2,139.5 396.4,131.8 396.7,141.2 397.0,136.3 397.3,133.2 397.6,133.3 397.8,131.3 398.1,135.6 398.4,133.3 398.7,142.4 399.0,135.3 399.2,129.0 399.5,134.4 399.8,127.1 400.1,136.8 400.4,141.2 400.6,140.5 400.9,129.7 401.2,130.9 401.5,139.0 401.8,133.5 402.0,132.4 402.3,138.0 402.6,143.4 402.9,138.9 403.2,133.3 403.4,134.6 403.7,134.5 404.0,130.2 404.3,128.9 404.6,133.0 404.8,131.8 405.1,134.5 405.4,138.0 405.7,144.2 406.0,133.3 406.2,133.5 406.5,133.4 406.8,135.6 407.1,139.8 407.4,134.3 407.6,134.2 407.9,130.0 408.2,134.2 408.5,139.4 408.8,139.0 409.0,133.5 409.3,137.3 409.6,139.0 409.9,142.2 410.2,135.8 410.4,135.2 410.7,128.5 411.0,132.6 411.3,144.5 411.6,130.3 411.8,136.6 412.1,140.5 412.4,139.1 412.7,137.5 413.0,140.3 413.2,141.4 413.5,141.8 413.8,133.3 414.1,138.3 414.4,134.6 414.6,136.1 414.9,140.3 415.2,143.4 415.5,145.4 415.8,140.6 416.0,146.1 416.3,145.8 416.6,143.7 416.9,144.2 417.2,138.5 417.4,139.9 417.7,144.1 418.0,135.7 418.3,141.4 418.6,138.9 418.8,140.9 419.1,136.3 419.4,140.2 419.7,143.4 420.0,146.7 420.2,146.9 420.5,144.8 420.8,144.9 421.1,143.6 421.4,148.1 421.6,147.7 421.9,149.3 422.2,154.5 422.5,146.6 422.8,141.7 423.0,142.3 423.3,140.6 423.6,142.1 423.9,151.8 424.2,148.3 424.4,140.9 424.7,148.4 425.0,150.2 425.3,145.2 425.6,145.8 425.8,145.4 426.1,148.0 426.4,148.8 426.7,153.3 427.0,163.3 427.2,150.9 427.5,149.7 427.8,146.6 428.1,137.4 428.4,143.9 428.6,146.5 428.9,143.8 429.2,148.4 429.5,144.8 429.8,144.0 430.0,151.5 430.3,147.5 430.6,145.7 430.9,148.3 431.2,148.1 431.4,145.0 431.7,136.1 432.0,142.4 432.3,140.0 432.6,135.2 432.8,139.7 433.1,145.5 433.4,140.7 433.7,138.9 434.0,150.3 434.2,140.2 434.5,136.4 434.8,142.4 435.1,142.3 435.4,141.0 435.6,147.3 435.9,142.1 436.2,137.0 436.5,140.0 436.8,141.4 437.0,136.2 437.3,139.9 437.6,140.9 437.9,152.7 438.2,139.6 438.4,145.9 438.7,140.2 439.0,140.9 439.3,145.5 439.6,148.6 439.8,149.9 440.1,147.8 440.4,143.9 440.7,145.0 441.0,146.7 441.2,146.0 441.5,150.1 441.8,149.7 442.1,153.9 442.4,156.0 442.6,149.6 442.9,143.2 443.2,143.5 443.5,144.1 443.8,156.6 444.0,148.1 444.3,155.2 444.6,153.0 444.9,157.3 445.2,153.7 445.4,150.0 445.7,149.0 446.0,150.3 446.3,150.0 446.6,147.4 446.8,148.7 447.1,153.6 447.4,138.7 447.7,145.2 448.0,137.8 448.2,143.4 448.5,144.3 448.8,143.0 449.1,143.8 449.4,135.1 449.6,144.1 449.9,138.1 450.2,144.4 450.5,145.0 450.8,135.1 451.0,142.9 451.3,145.1 451.6,151.0 451.9,146.2 452.2,146.7 452.4,140.3 452.7,151.4 453.0,154.0 453.3,148.3 453.6,147.5 453.8,141.9 454.1,152.3 454.4,158.7 454.7,151.9 455.0,155.2 455.2,152.2 455.5,158.5 455.8,154.2 456.1,145.0 456.4,151.4 456.6,150.0 456.9,154.6 457.2,151.5 457.5,154.1 457.8,147.9 458.0,144.5 458.3,147.7 458.6,145.3 458.9,141.3 459.2,141.7 459.4,144.4 459.7,138.9 460.0,140.3 460.3,138.1 460.6,144.5 460.8,146.3 461.1,152.1 461.4,138.3 461.7,140.2 462.0,145.0 462.2,141.3 462.5,140.8 462.8,148.4 463.1,141.8 463.4,137.9 463.6,138.5 463.9,143.7 464.2,144.8 464.5,136.9 464.8,137.8 465.0,155.6 465.3,142.5 465.6,139.0 465.9,146.4 466.2,146.7 466.4,137.0 466.7,140.3 467.0,142.1 467.3,137.9 467.6,133.2 467.8,140.5 468.1,143.6 468.4,144.6 468.7,130.5 469.0,149.4 469.2,135.3 469.5,142.8 469.8,142.9 470.1,141.6 470.4,136.7 470.6,130.1 470.9,137.6 471.2,131.6 471.5,125.7 471.8,144.2 472.0,137.6 472.3,141.9 472.6,132.0 472.9,138.6 473.2,138.7 473.4,137.0 473.7,132.5 474.0,128.1 474.3,133.0 474.6,126.5 474.8,128.3 475.1,135.3 475.4,129.4 475.7,132.1 476.0,132.9 476.2,141.6 476.5,138.5 476.8,133.7 477.1,138.1 477.4,132.8 477.6,134.2 477.9,137.5 478.2,127.8 478.5,132.8 478.8,130.4 479.0,135.8 479.3,140.4 479.6,131.1 479.9,134.6 480.2,128.3 480.4,126.5 480.7,128.2 481.0,140.1 481.3,144.6 481.6,137.4 481.8,133.3 482.1,136.9 482.4,132.4 482.7,135.3 483.0,134.0 483.2,133.6 483.5,135.3 483.8,131.5 484.1,131.3 484.4,125.9 484.6,132.5 484.9,129.1 485.2,132.7 485.5,128.0 485.8,133.3 486.0,136.6 486.3,129.5 486.6,133.4 486.9,133.1 487.2,140.7 487.4,144.2 487.7,142.8 488.0,141.2 488.3,150.4 488.6,140.5 488.8,153.3 489.1,145.5 489.4,138.5 489.7,157.1 490.0,151.8 490.2,142.0 490.5,146.7 490.8,146.6 491.1,147.2 491.4,142.2 491.6,145.3 491.9,151.1 492.2,148.1 492.5,152.5 492.8,148.6 493.0,158.8 493.3,146.0 493.6,147.9 493.9,140.8 494.2,141.8 494.4,150.5 494.7,139.7 495.0,146.3 495.3,143.6 495.6,140.2 495.8,141.4 496.1,140.2 496.4,138.7 496.7,142.6 497.0,141.6 497.2,136.9 497.5,134.7 497.8,140.2 498.1,138.3 498.4,141.8 498.6,147.0 498.9,139.2 499.2,137.0 499.5,135.0 499.8,132.8 500.0,131.9 500.3,130.5 500.6,132.1 500.9,133.1 501.2,135.6 501.4,130.8 501.7,129.7 502.0,126.4 502.3,135.4 502.6,132.1 502.8,137.1 503.1,136.7 503.4,138.1 503.7,132.3 504.0,134.8 504.2,142.6 504.5,129.1 504.8,138.4 505.1,152.2 505.4,134.8 505.6,137.2 505.9,140.0 506.2,131.9 506.5,134.5 506.8,129.5 507.0,130.8 507.3,131.6 507.6,132.6 507.9,134.3 508.2,136.4 508.4,131.2 508.7,144.8 509.0,142.8 509.3,139.7 509.6,137.9 509.8,137.5 510.1,140.0 510.4,135.8 510.7,124.0 511.0,132.2 511.2,140.7 511.5,126.1 511.8,135.4 512.1,134.1 512.4,146.9 512.6,136.7 512.9,122.4 513.2,127.2 513.5,130.5 513.8,126.3 514.0,124.7 514.3,125.3 514.6,122.7 514.9,130.2 515.2,121.6 515.4,127.8 515.7,119.2 516.0,125.4 516.3,118.8 516.6,105.6 516.8,115.1 517.1,111.3 517.4,113.5 517.7,118.0 518.0,105.6"/>
<polyline fill="none" stroke="#060606" stroke-width="1.0" stroke-linejoin="round" points="81.4,296.0 81.9,322.0 82.4,300.0 82.9,312.0 83.4,296.0 84.2,310.0"/>
<polygon fill="#060606" stroke="#060606" stroke-width="1.3" stroke-linejoin="round" points="81.6,297.5 82.0,301.9 82.4,301.9 82.8,301.2 83.2,302.3 83.6,300.2 84.0,300.6 84.4,300.3 84.8,302.9 85.2,302.5 85.6,303.7 86.0,303.1 86.4,299.5 86.8,300.7 87.2,302.1 87.6,301.9 88.0,299.2 88.4,297.8 88.8,300.6 89.2,298.1 89.6,301.7 90.0,303.0 90.4,301.6 90.8,303.8 91.2,304.2 91.6,300.2 92.0,303.1 92.4,303.7 92.8,304.5 93.2,303.9 93.6,304.8 94.0,304.9 94.4,305.5 94.8,305.8 95.2,304.8 95.6,307.9 96.0,306.3 96.4,306.3 96.8,309.0 97.2,309.6 97.6,310.9 98.0,310.4 98.4,313.5 98.8,310.2 99.2,313.7 99.6,313.9 100.0,314.8 100.4,315.8 100.8,313.9 101.2,312.6 101.6,313.7 102.0,314.2 102.4,315.0 102.8,316.7 103.2,317.0 103.6,315.7 104.0,316.4 104.4,316.4 104.8,317.2 105.2,317.5 105.6,317.0 106.0,316.2 106.4,317.3 106.8,316.5 107.2,316.2 107.6,317.1 108.0,314.9 108.4,314.7 108.8,315.0 109.2,317.2 109.6,316.9 110.0,317.4 110.4,317.4 110.8,317.8 111.2,317.6 111.6,317.1 112.0,316.5 112.4,316.6 112.8,316.2 113.2,316.6 113.6,317.7 114.0,317.7 114.4,317.3 114.8,316.8 115.2,316.9 115.6,315.6 116.0,314.3 116.4,315.3 116.8,316.2 117.2,316.1 117.6,315.4 118.0,317.1 118.4,318.0 118.8,316.2 119.2,316.3 119.6,316.7 120.0,316.5 120.4,317.2 120.8,315.8 121.2,316.7 121.6,315.9 122.0,315.3 122.4,315.4 122.8,315.5 123.2,316.2 123.6,316.7 124.0,316.1 124.4,316.5 124.8,316.7 125.2,316.1 125.6,316.2 126.0,316.6 126.4,316.4 126.8,316.5 127.2,315.9 127.6,314.0 128.0,314.9 128.4,314.6 128.8,314.2 129.2,314.1 129.6,315.9 130.0,314.6 130.4,313.9 130.8,314.4 131.2,313.1 131.6,313.1 132.0,315.8 132.4,315.3 132.8,315.8 133.2,316.8 133.6,316.5 134.0,316.0 134.4,315.0 134.8,314.7 135.2,312.2 135.6,314.3 136.0,315.7 136.4,315.2 136.8,315.8 137.2,315.1 137.6,313.8 138.0,314.3 138.4,315.7 138.8,315.8 139.2,314.6 139.6,315.8 140.0,314.2 140.4,313.8 140.8,316.1 141.2,315.5 141.6,313.8 142.0,314.7 142.4,314.2 142.8,315.3 143.2,316.8 143.6,316.8 144.0,315.6 144.4,317.1 144.8,316.5 145.2,317.7 145.6,318.0 146.0,317.8 146.4,317.6 146.8,316.9 147.2,317.4 147.6,317.0 148.0,317.0 148.4,316.9 148.8,316.0 149.2,316.7 149.6,315.3 150.0,316.1 150.4,316.5 150.8,316.5 151.2,315.7 151.6,316.6 152.0,316.0 152.4,314.6 152.8,315.3 153.2,314.6 153.6,314.6 154.0,313.6 154.4,313.3 154.8,314.5 155.2,312.9 155.6,313.0 156.0,311.1 156.4,311.0 156.8,311.7 157.2,312.8 157.6,313.1 158.0,311.8 158.4,312.2 158.8,311.4 159.2,309.8 159.6,309.4 160.0,308.8 160.4,310.0 160.8,310.4 161.2,311.9 161.6,311.9 162.0,312.7 162.4,309.8 162.8,312.0 163.2,312.0 163.6,311.6 164.0,311.2 164.4,312.9 164.8,314.3 165.2,315.1 165.6,315.3 166.0,316.0 166.4,317.2 166.8,316.9 167.2,317.4 167.6,316.5 168.0,315.9 168.4,312.4 168.8,312.0 169.2,309.3 169.6,309.1 170.0,306.7 170.4,304.3 170.8,303.8 171.2,302.2 171.6,299.3 172.0,300.3 172.4,300.9 172.8,301.5 173.2,301.5 173.6,303.1 174.0,303.0 174.4,303.1 174.8,303.6 175.2,303.4 175.6,305.8 176.0,306.0 176.4,306.9 176.8,308.0 177.2,307.3 177.6,307.9 178.0,308.3 178.4,308.7 178.8,308.5 179.2,308.9 179.6,307.9 180.0,308.0 180.4,307.3 180.8,307.3 181.2,305.9 181.6,308.0 182.0,306.8 182.4,305.9 182.8,306.8 183.2,306.4 183.6,306.4 184.0,306.9 184.4,307.8 184.8,307.3 185.2,306.0 185.6,306.3 186.0,307.1 186.4,307.8 186.8,307.9 187.2,307.3 187.6,307.2 188.0,307.3 188.4,307.3 188.8,308.0 189.2,307.0 189.6,304.8 190.0,303.4 190.4,302.8 190.8,301.4 191.2,302.0 191.6,302.3 192.0,302.4 192.4,301.7 192.8,302.6 193.2,303.8 193.6,304.6 194.0,304.3 194.4,305.2 194.8,303.9 195.2,305.4 195.6,305.7 196.0,306.3 196.4,305.4 196.8,305.5 197.2,306.6 197.6,306.0 198.0,305.1 198.4,306.7 198.8,307.7 199.2,307.7 199.6,307.5 200.0,308.1 200.4,306.6 200.8,307.2 201.2,306.8 201.6,305.7 202.0,304.9 202.4,304.6 202.8,302.8 203.2,301.9 203.6,302.4 204.0,302.2 204.4,300.9 204.8,299.0 205.2,299.5 205.6,297.1 206.0,297.3 206.4,298.6 206.8,299.2 207.2,300.7 207.6,301.6 208.0,302.0 208.4,302.0 208.8,301.9 209.2,305.1 209.6,305.8 210.0,307.1 210.4,307.7 210.8,307.0 211.2,307.7 211.6,307.2 212.0,307.6 212.4,308.9 212.8,309.4 213.2,309.1 213.6,308.2 214.0,307.6 214.4,306.6 214.8,306.0 215.2,305.1 215.6,305.1 216.0,304.1 216.4,303.8 216.8,302.1 217.2,301.3 217.6,301.6 218.0,302.4 218.4,305.2 218.8,306.6 219.2,308.0 219.6,306.7 220.0,308.1 220.4,308.2 220.8,307.1 221.2,307.7 221.6,307.8 222.0,307.3 222.4,305.4 222.8,307.1 223.2,306.3 223.6,305.9 224.0,305.9 224.4,307.2 224.8,305.3 225.2,306.9 225.6,306.8 226.0,306.3 226.4,307.1 226.8,305.5 227.2,306.0 227.6,305.6 228.0,304.9 228.4,306.2 228.8,306.1 229.2,305.5 229.6,304.1 230.0,304.8 230.4,304.1 230.8,303.6 231.2,302.3 231.6,300.0 232.0,298.4 232.4,295.7 232.8,295.0 233.2,293.0 233.6,291.9 234.0,290.4 234.4,288.8 234.8,285.7 235.2,286.4 235.6,289.2 236.0,290.2 236.4,293.0 236.8,294.6 237.2,295.6 237.6,300.0 238.0,302.6 238.4,301.1 238.8,301.4 239.2,301.1 239.6,300.3 240.0,299.3 240.4,298.1 240.8,297.6 241.2,297.3 241.6,296.7 242.0,296.9 242.4,296.2 242.8,294.4 243.2,294.1 243.6,296.3 244.0,297.8 244.4,300.3 244.8,302.3 245.2,303.5 245.6,303.5 246.0,304.0 246.4,304.1 246.8,303.9 247.2,303.5 247.6,304.0 248.0,304.9 248.4,304.4 248.8,305.2 249.2,306.1 249.6,304.5 250.0,303.1 250.4,302.9 250.8,304.1 251.2,304.6 251.6,305.0 252.0,306.0 252.4,304.2 252.8,305.2 253.2,304.0 253.6,304.5 254.0,304.8 254.4,304.5 254.8,304.1 255.2,301.5 255.6,301.2 256.0,301.4 256.4,301.7 256.8,302.2 257.2,301.4 257.6,303.3 258.0,304.2 258.4,302.0 258.8,303.3 259.2,303.5 259.6,302.7 260.0,303.1 260.4,303.8 260.8,303.1 261.2,304.8 261.6,304.9 262.0,304.6 262.4,305.7 262.8,304.8 263.2,304.2 263.6,304.2 264.0,305.9 264.4,302.9 264.8,302.7 265.2,304.5 265.6,303.5 266.0,301.6 266.4,301.4 266.8,300.9 267.2,298.4 267.6,298.2 268.0,296.6 268.4,294.0 268.8,291.1 269.2,289.7 269.6,290.8 270.0,292.1 270.4,293.9 270.8,295.4 271.2,295.3 271.6,298.2 272.0,298.0 272.4,300.0 272.8,301.3 273.2,301.7 273.6,302.8 274.0,304.6 274.4,305.0 274.8,304.1 275.2,304.9 275.6,304.1 276.0,303.5 276.4,302.4 276.8,303.3 277.2,304.0 277.6,303.8 278.0,303.1 278.4,303.4 278.8,301.7 279.2,303.2 279.6,299.7 280.0,303.8 280.4,304.0 280.8,303.8 281.2,303.4 281.6,302.7 282.0,304.7 282.4,304.0 282.8,303.3 283.2,302.9 283.6,304.1 284.0,303.3 284.4,303.0 284.8,304.7 285.2,303.4 285.6,304.7 286.0,303.6 286.4,304.9 286.8,305.8 287.2,305.8 287.6,306.7 288.0,306.1 288.4,306.6 288.8,307.0 289.2,305.9 289.6,305.7 290.0,304.9 290.4,305.7 290.8,305.4 291.2,304.9 291.6,304.2 292.0,304.5 292.4,302.8 292.8,303.8 293.2,303.9 293.6,302.8 294.0,304.3 294.4,303.3 294.8,302.0 295.2,301.5 295.6,302.4 296.0,302.3 296.4,304.1 296.8,304.5 297.2,303.6 297.6,304.0 298.0,301.9 298.4,304.2 298.8,303.0 299.2,304.0 299.6,302.8 300.0,303.5 300.4,302.5 300.8,301.8 301.2,301.6 301.6,303.5 302.0,304.0 302.4,303.2 302.8,304.5 303.2,304.3 303.6,305.4 304.0,303.9 304.4,304.8 304.8,305.5 305.2,305.2 305.6,305.0 306.0,304.2 306.4,303.9 306.8,303.2 307.2,304.3 307.6,304.7 308.0,301.4 308.4,304.5 308.8,303.1 309.2,300.9 309.6,301.6 310.0,301.2 310.4,299.1 310.8,299.0 311.2,298.3 311.6,297.2 312.0,300.2 312.4,300.9 312.8,301.4 313.2,302.9 313.6,305.5 314.0,308.2 314.4,309.7 314.8,311.3 315.2,312.7 315.6,310.1 316.0,311.2 316.4,309.8 316.8,310.4 317.2,311.2 317.6,312.2 318.0,312.4 318.4,311.9 318.8,312.2 319.2,312.5 319.6,311.5 320.0,312.5 320.4,312.2 320.8,312.0 321.2,312.1 321.6,312.2 322.0,311.8 322.4,312.1 322.8,312.0 323.2,312.3 323.6,311.7 324.0,310.9 324.4,310.9 324.8,310.0 325.2,311.0 325.6,311.3 326.0,311.7 326.4,309.7 326.8,311.7 327.2,312.5 327.6,311.3 328.0,311.9 328.4,310.0 328.8,310.0 329.2,311.1 329.6,311.6 330.0,310.9 330.4,311.2 330.8,311.8 331.2,309.4 331.6,308.9 332.0,306.1 332.4,305.7 332.8,303.3 333.2,302.5 333.6,300.6 334.0,299.9 334.4,299.2 334.8,298.1 335.2,296.9 335.6,295.2 336.0,296.2 336.4,294.1 336.8,293.4 337.2,293.2 337.6,295.1 338.0,292.5 338.4,291.4 338.8,290.6 339.2,287.9 339.6,289.0 340.0,288.6 340.4,287.9 340.8,286.1 341.2,284.4 341.6,285.0 342.0,285.0 342.4,285.6 342.8,287.8 343.2,287.5 343.6,288.5 344.0,290.9 344.4,292.0 344.8,294.1 345.2,294.4 345.6,298.1 346.0,299.5 346.4,302.1 346.8,303.8 347.2,304.3 347.6,308.1 348.0,309.8 348.4,311.8 348.8,312.3 349.2,310.4 349.6,309.4 350.0,309.4 350.4,308.6 350.8,308.5 351.2,307.7 351.6,306.9 352.0,307.7 352.4,307.2 352.8,309.0 353.2,308.9 353.6,310.6 354.0,309.5 354.4,310.0 354.8,310.0 355.2,311.1 355.6,311.8 356.0,312.4 356.4,312.0 356.8,310.5 357.2,310.6 357.6,311.2 358.0,310.2 358.4,309.8 358.8,310.5 359.2,309.2 359.6,309.9 360.0,308.9 360.4,310.4 360.8,308.1 361.2,308.7 361.6,307.9 362.0,306.7 362.4,307.0 362.8,305.3 363.2,308.2 363.6,307.9 364.0,308.1 364.4,307.5 364.8,308.4 365.2,309.1 365.6,308.4 366.0,308.5 366.4,307.3 366.8,307.4 367.2,308.1 367.6,308.7 368.0,309.4 368.4,309.9 368.8,307.1 369.2,308.1 369.6,308.7 370.0,306.3 370.4,306.6 370.8,305.2 371.2,303.3 371.6,301.6 372.0,301.5 372.4,300.8 372.8,300.9 373.2,298.2 373.6,300.6 374.0,301.6 374.4,302.8 374.8,303.3 375.2,304.6 375.6,305.3 376.0,307.2 376.4,306.9 376.8,308.4 377.2,307.7 377.6,309.3 378.0,308.6 378.4,308.5 378.8,310.7 379.2,309.8 379.6,311.6 380.0,310.8 380.4,310.6 380.8,310.7 381.2,310.3 381.6,311.5 382.0,310.8 382.4,309.8 382.8,310.2 383.2,310.2 383.6,308.7 384.0,310.8 384.4,308.8 384.8,308.9 385.2,308.4 385.6,307.1 386.0,307.6 386.4,308.5 386.8,307.8 387.2,306.1 387.6,300.8 388.0,296.0 388.4,292.9 388.8,289.6 389.2,284.2 389.6,281.0 390.0,275.1 390.4,273.4 390.8,273.4 391.2,274.0 391.6,273.8 392.0,274.6 392.4,276.5 392.8,275.8 393.2,275.6 393.6,274.2 394.0,273.6 394.4,277.5 394.8,279.7 395.2,280.7 395.6,281.6 396.0,282.2 396.4,283.4 396.8,286.8 397.2,288.8 397.6,290.9 398.0,292.7 398.4,293.7 398.8,296.5 399.2,300.4 399.6,302.2 400.0,303.1 400.4,302.1 400.8,303.3 401.2,302.9 401.6,302.0 402.0,302.0 402.4,300.9 402.8,299.9 403.2,301.0 403.6,301.0 404.0,301.6 404.4,302.3 404.8,301.9 405.2,300.8 405.6,300.9 406.0,300.0 406.4,299.2 406.8,298.5 407.2,297.8 407.6,298.3 408.0,298.3 408.4,297.7 408.8,297.8 409.2,298.3 409.6,297.0 410.0,296.9 410.4,295.4 410.8,293.5 411.2,294.2 411.6,297.1 412.0,296.6 412.4,297.2 412.8,299.4 413.2,299.7 413.6,299.6 414.0,302.0 414.4,302.3 414.8,301.5 415.2,301.9 415.6,300.7 416.0,301.1 416.4,301.6 416.8,302.4 417.2,303.0 417.6,303.4 418.0,303.7 418.4,303.0 418.8,304.3 419.2,304.0 419.6,304.7 420.0,303.8 420.4,303.8 420.8,302.9 421.2,302.4 421.6,301.2 422.0,301.9 422.4,302.7 422.8,302.0 423.2,302.7 423.6,302.4 424.0,301.5 424.4,302.2 424.8,301.8 425.2,301.0 425.6,301.3 426.0,300.6 426.4,300.0 426.8,299.1 427.2,300.4 427.6,301.4 428.0,300.1 428.4,299.8 428.8,300.7 429.2,299.0 429.6,299.7 430.0,301.3 430.4,300.6 430.8,301.2 431.2,301.2 431.6,302.0 432.0,301.4 432.4,300.9 432.8,300.2 433.2,299.7 433.6,299.8 434.0,299.6 434.4,298.9 434.8,299.7 435.2,299.2 435.6,299.4 436.0,298.2 436.4,299.4 436.8,299.3 437.2,300.2 437.6,301.6 438.0,302.1 438.4,300.6 438.8,301.1 439.2,298.5 439.6,299.8 440.0,300.2 440.4,300.6 440.8,299.4 441.2,300.6 441.6,302.0 442.0,300.6 442.4,300.3 442.8,299.0 443.2,297.0 443.6,294.8 444.0,294.5 444.4,293.3 444.8,291.2 445.2,291.0 445.6,288.4 446.0,287.1 446.4,289.7 446.8,290.0 447.2,292.6 447.6,295.2 448.0,296.4 448.4,300.0 448.8,301.6 449.2,300.8 449.6,302.2 450.0,301.9 450.4,301.0 450.8,300.9 451.2,300.4 451.6,300.4 452.0,299.5 452.4,299.7 452.8,299.6 453.2,298.8 453.6,299.4 454.0,299.0 454.4,298.1 454.8,298.1 455.2,295.4 455.6,295.0 456.0,294.9 456.4,297.1 456.8,297.1 457.2,297.4 457.6,297.8 458.0,297.2 458.4,298.3 458.8,299.5 459.2,300.3 459.6,300.1 460.0,299.9 460.4,299.8 460.8,301.0 461.2,301.7 461.6,302.8 462.0,302.4 462.4,301.9 462.8,302.6 463.2,302.1 463.6,302.5 464.0,301.8 464.4,301.0 464.8,300.8 465.2,300.5 465.6,302.0 466.0,301.4 466.4,303.2 466.8,303.5 467.2,302.5 467.6,302.2 468.0,302.3 468.4,300.5 468.8,297.4 469.2,297.0 469.6,292.0 470.0,289.9 470.4,288.6 470.8,287.0 471.2,287.7 471.6,286.6 472.0,287.5 472.4,287.8 472.8,286.0 473.2,286.0 473.6,284.5 474.0,285.1 474.4,286.4 474.8,288.0 475.2,290.4 475.6,288.7 476.0,290.4 476.4,290.3 476.8,291.5 477.2,293.8 477.6,294.5 478.0,296.5 478.4,298.2 478.8,297.4 479.2,297.9 479.6,297.8 480.0,298.9 480.4,299.1 480.8,298.4 481.2,300.1 481.6,299.0 482.0,298.1 482.4,298.5 482.8,298.1 483.2,296.6 483.6,297.1 484.0,297.7 484.4,298.2 484.8,300.1 485.2,299.6 485.6,300.0 486.0,297.5 486.4,298.0 486.8,297.9 487.2,297.2 487.6,297.0 488.0,295.9 488.4,294.5 488.8,294.7 489.2,293.1 489.6,291.4 490.0,294.4 490.4,294.4 490.8,296.2 491.2,298.1 491.6,298.7 492.0,297.8 492.4,299.2 492.8,299.7 493.2,300.3 493.6,299.4 494.0,299.4 494.4,297.8 494.8,298.0 495.2,298.7 495.6,298.7 496.0,298.0 496.4,296.5 496.8,296.4 497.2,297.2 497.6,298.7 498.0,299.1 498.4,299.6 498.8,298.8 499.2,300.6 499.6,299.6 500.0,295.9 500.4,296.3 500.8,296.6 501.2,295.4 501.6,296.0 502.0,293.8 502.4,294.1 502.8,292.5 503.2,291.8 503.6,290.1 504.0,288.8 504.4,287.7 504.8,284.7 505.2,283.9 505.6,281.7 506.0,278.7 506.4,277.1 506.8,274.4 507.2,272.6 507.6,270.2 508.0,268.3 508.4,269.4 508.8,269.8 509.2,271.4 509.6,274.8 510.0,274.4 510.4,274.1 510.8,275.7 511.2,274.3 511.6,273.0 512.0,272.2 512.4,272.2 512.8,271.5 513.2,272.2 513.6,272.9 514.0,272.2 514.4,271.9 514.8,273.2 515.2,273.8 515.6,273.7 516.0,274.7 516.4,274.6 516.8,275.3 517.2,274.5 517.6,275.7 517.6,281.3 517.2,280.3 516.8,280.2 516.4,279.9 516.0,278.7 515.6,279.0 515.2,278.0 514.8,278.9 514.4,277.4 514.0,279.3 513.6,277.6 513.2,278.2 512.8,276.9 512.4,276.3 512.0,277.9 511.6,278.4 511.2,279.4 510.8,280.1 510.4,279.3 510.0,280.0 509.6,280.7 509.2,277.0 508.8,276.4 508.4,276.3 508.0,274.7 507.6,277.1 507.2,277.5 506.8,278.8 506.4,283.0 506.0,283.2 505.6,286.7 505.2,288.7 504.8,292.2 504.4,292.6 504.0,293.0 503.6,295.5 503.2,297.6 502.8,297.6 502.4,299.2 502.0,298.8 501.6,300.2 501.2,300.3 500.8,301.8 500.4,302.1 500.0,302.6 499.6,303.6 499.2,305.9 498.8,305.1 498.4,304.1 498.0,303.3 497.6,303.9 497.2,302.6 496.8,301.7 496.4,302.7 496.0,303.0 495.6,302.9 495.2,304.5 494.8,303.0 494.4,304.1 494.0,303.5 493.6,303.9 493.2,304.9 492.8,305.0 492.4,305.0 492.0,304.3 491.6,303.5 491.2,302.6 490.8,300.1 490.4,298.8 490.0,299.3 489.6,297.8 489.2,297.5 488.8,299.0 488.4,300.6 488.0,302.2 487.6,301.5 487.2,302.1 486.8,302.1 486.4,302.4 486.0,304.9 485.6,304.5 485.2,303.7 484.8,305.3 484.4,304.2 484.0,303.3 483.6,302.2 483.2,301.6 482.8,303.4 482.4,302.5 482.0,303.0 481.6,305.8 481.2,304.7 480.8,306.3 480.4,304.1 480.0,304.1 479.6,302.6 479.2,302.4 478.8,303.6 478.4,302.2 478.0,301.5 477.6,301.7 477.2,299.7 476.8,297.1 476.4,295.2 476.0,295.0 475.6,294.7 475.2,294.7 474.8,294.2 474.4,291.4 474.0,290.1 473.6,290.7 473.2,291.5 472.8,290.9 472.4,292.0 472.0,293.5 471.6,292.7 471.2,293.3 470.8,291.4 470.4,294.8 470.0,295.5 469.6,297.7 469.2,303.1 468.8,302.6 468.4,306.9 468.0,307.2 467.6,307.9 467.2,310.2 466.8,309.6 466.4,308.9 466.0,306.8 465.6,306.2 465.2,307.2 464.8,305.8 464.4,306.6 464.0,306.5 463.6,308.4 463.2,306.9 462.8,308.0 462.4,307.4 462.0,306.5 461.6,307.1 461.2,306.3 460.8,306.3 460.4,304.8 460.0,306.4 459.6,306.3 459.2,304.8 458.8,303.9 458.4,304.2 458.0,302.5 457.6,302.2 457.2,302.3 456.8,302.9 456.4,301.5 456.0,301.4 455.6,300.5 455.2,302.5 454.8,302.1 454.4,303.3 454.0,303.1 453.6,304.3 453.2,303.7 452.8,304.9 452.4,306.4 452.0,306.3 451.6,305.6 451.2,305.6 450.8,305.8 450.4,306.9 450.0,307.6 449.6,307.5 449.2,309.0 448.8,307.4 448.4,304.5 448.0,301.9 447.6,299.8 447.2,299.2 446.8,297.0 446.4,295.0 446.0,292.7 445.6,293.5 445.2,295.8 444.8,296.6 444.4,297.4 444.0,299.3 443.6,299.6 443.2,301.7 442.8,304.0 442.4,305.3 442.0,307.5 441.6,307.1 441.2,305.2 440.8,306.2 440.4,305.8 440.0,305.4 439.6,303.8 439.2,305.1 438.8,306.9 438.4,305.1 438.0,306.7 437.6,307.5 437.2,306.3 436.8,306.5 436.4,305.5 436.0,304.3 435.6,304.6 435.2,304.8 434.8,304.9 434.4,304.1 434.0,305.0 433.6,304.6 433.2,303.8 432.8,304.9 432.4,307.0 432.0,305.6 431.6,307.5 431.2,306.3 430.8,305.6 430.4,306.5 430.0,306.8 429.6,306.7 429.2,305.2 428.8,306.2 428.4,305.5 428.0,304.8 427.6,308.1 427.2,304.7 426.8,304.4 426.4,304.6 426.0,306.7 425.6,307.2 425.2,308.1 424.8,307.1 424.4,306.9 424.0,307.8 423.6,306.9 423.2,306.8 422.8,307.5 422.4,307.6 422.0,307.2 421.6,307.0 421.2,306.8 420.8,307.4 420.4,308.3 420.0,308.2 419.6,309.3 419.2,309.8 418.8,308.6 418.4,308.9 418.0,309.0 417.6,307.7 417.2,307.8 416.8,306.6 416.4,307.0 416.0,306.7 415.6,305.8 415.2,308.1 414.8,306.0 414.4,307.5 414.0,306.3 413.6,307.4 413.2,304.4 412.8,304.0 412.4,303.7 412.0,302.1 411.6,302.5 411.2,300.3 410.8,298.4 410.4,299.9 410.0,302.4 409.6,301.9 409.2,303.3 408.8,304.2 408.4,302.6 408.0,304.4 407.6,302.8 407.2,303.7 406.8,304.4 406.4,304.5 406.0,304.3 405.6,305.6 405.2,306.7 404.8,306.2 404.4,307.7 404.0,306.2 403.6,305.3 403.2,306.4 402.8,305.6 402.4,305.9 402.0,306.6 401.6,306.8 401.2,308.1 400.8,309.9 400.4,307.5 400.0,307.8 399.6,307.9 399.2,304.9 398.8,303.6 398.4,299.5 398.0,298.5 397.6,295.2 397.2,294.6 396.8,291.7 396.4,289.3 396.0,287.9 395.6,286.4 395.2,285.3 394.8,284.3 394.4,282.7 394.0,282.5 393.6,280.4 393.2,279.9 392.8,282.5 392.4,281.1 392.0,281.9 391.6,278.9 391.2,278.4 390.8,278.5 390.4,279.6 390.0,281.4 389.6,285.9 389.2,291.0 388.8,294.1 388.4,298.4 388.0,303.4 387.6,307.4 387.2,310.5 386.8,312.5 386.4,312.7 386.0,312.0 385.6,313.9 385.2,314.5 384.8,313.8 384.4,314.6 384.0,314.9 383.6,315.2 383.2,316.0 382.8,315.3 382.4,315.3 382.0,315.1 381.6,316.7 381.2,316.2 380.8,315.9 380.4,315.8 380.0,315.8 379.6,315.5 379.2,315.5 378.8,314.8 378.4,315.1 378.0,314.0 377.6,314.0 377.2,313.9 376.8,313.2 376.4,313.6 376.0,311.7 375.6,310.7 375.2,310.3 374.8,309.4 374.4,307.3 374.0,307.4 373.6,305.4 373.2,304.6 372.8,305.6 372.4,307.0 372.0,307.2 371.6,306.8 371.2,308.5 370.8,309.7 370.4,310.9 370.0,313.0 369.6,313.8 369.2,313.3 368.8,313.6 368.4,314.2 368.0,314.9 367.6,314.4 367.2,312.9 366.8,312.2 366.4,312.4 366.0,312.4 365.6,314.1 365.2,313.9 364.8,313.8 364.4,313.4 364.0,312.9 363.6,312.3 363.2,314.1 362.8,311.6 362.4,312.6 362.0,312.8 361.6,312.2 361.2,313.5 360.8,315.1 360.4,315.5 360.0,314.4 359.6,315.1 359.2,316.6 358.8,315.0 358.4,315.5 358.0,315.5 357.6,316.1 357.2,316.2 356.8,318.0 356.4,316.3 356.0,316.7 355.6,316.6 355.2,315.8 354.8,315.3 354.4,314.5 354.0,314.8 353.6,315.8 353.2,314.3 352.8,314.1 352.4,312.7 352.0,314.1 351.6,311.6 351.2,311.8 350.8,312.8 350.4,312.9 350.0,314.7 349.6,314.7 349.2,314.3 348.8,317.5 348.4,316.8 348.0,316.5 347.6,313.0 347.2,311.5 346.8,308.5 346.4,308.1 346.0,305.5 345.6,303.0 345.2,301.5 344.8,299.8 344.4,297.7 344.0,295.2 343.6,295.5 343.2,293.4 342.8,292.6 342.4,291.4 342.0,289.5 341.6,289.9 341.2,290.1 340.8,291.7 340.4,293.0 340.0,294.0 339.6,295.1 339.2,293.8 338.8,295.3 338.4,297.8 338.0,298.2 337.6,300.1 337.2,301.1 336.8,300.2 336.4,300.5 336.0,301.5 335.6,301.9 335.2,302.9 334.8,303.2 334.4,304.7 334.0,304.5 333.6,307.0 333.2,307.2 332.8,308.8 332.4,309.8 332.0,311.5 331.6,313.4 331.2,315.1 330.8,316.4 330.4,317.0 330.0,316.9 329.6,316.7 329.2,315.7 328.8,314.5 328.4,315.3 328.0,315.9 327.6,316.2 327.2,317.5 326.8,317.0 326.4,316.7 326.0,316.5 325.6,317.2 325.2,316.9 324.8,316.1 324.4,315.8 324.0,317.3 323.6,317.3 323.2,317.8 322.8,316.7 322.4,317.8 322.0,317.9 321.6,317.8 321.2,317.4 320.8,317.1 320.4,317.9 320.0,317.0 319.6,317.1 319.2,316.8 318.8,316.6 318.4,316.8 318.0,316.5 317.6,316.8 317.2,318.2 316.8,316.7 316.4,315.5 316.0,316.5 315.6,316.4 315.2,317.2 314.8,316.1 314.4,314.3 314.0,313.4 313.6,310.6 313.2,309.1 312.8,307.5 312.4,305.3 312.0,305.4 311.6,302.6 311.2,303.1 310.8,304.4 310.4,304.8 310.0,305.4 309.6,308.1 309.2,306.8 308.8,309.7 308.4,309.7 308.0,309.2 307.6,309.3 307.2,308.8 306.8,309.6 306.4,311.0 306.0,309.6 305.6,311.3 305.2,310.5 304.8,309.9 304.4,310.3 304.0,310.3 303.6,310.6 303.2,310.3 302.8,308.8 302.4,310.2 302.0,308.6 301.6,308.8 301.2,309.2 300.8,308.6 300.4,307.0 300.0,307.6 299.6,308.9 299.2,309.9 298.8,309.3 298.4,308.7 298.0,309.2 297.6,308.3 297.2,309.3 296.8,308.7 296.4,309.4 296.0,307.5 295.6,306.6 295.2,306.7 294.8,307.0 294.4,307.6 294.0,308.5 293.6,310.1 293.2,309.5 292.8,311.2 292.4,308.1 292.0,309.5 291.6,309.7 291.2,310.5 290.8,311.3 290.4,309.6 290.0,310.5 289.6,311.4 289.2,310.5 288.8,311.9 288.4,310.7 288.0,311.6 287.6,311.4 287.2,310.7 286.8,309.9 286.4,309.6 286.0,309.1 285.6,309.8 285.2,309.8 284.8,310.3 284.4,309.8 284.0,308.5 283.6,310.1 283.2,309.3 282.8,309.3 282.4,309.4 282.0,308.6 281.6,308.8 281.2,308.5 280.8,308.2 280.4,308.5 280.0,308.2 279.6,307.4 279.2,308.0 278.8,307.3 278.4,307.7 278.0,309.2 277.6,308.8 277.2,309.4 276.8,308.4 276.4,308.3 276.0,308.0 275.6,309.4 275.2,309.8 274.8,309.0 274.4,310.5 274.0,309.5 273.6,308.2 273.2,308.6 272.8,306.0 272.4,304.9 272.0,304.5 271.6,302.2 271.2,300.7 270.8,299.7 270.4,298.5 270.0,296.6 269.6,295.0 269.2,295.8 268.8,296.0 268.4,298.9 268.0,300.8 267.6,302.4 267.2,304.8 266.8,305.9 266.4,308.2 266.0,308.3 265.6,309.4 265.2,310.7 264.8,310.1 264.4,310.8 264.0,310.5 263.6,310.0 263.2,311.0 262.8,310.1 262.4,310.7 262.0,310.2 261.6,310.2 261.2,308.9 260.8,308.3 260.4,308.2 260.0,308.8 259.6,307.7 259.2,309.2 258.8,308.9 258.4,308.9 258.0,310.4 257.6,309.3 257.2,307.4 256.8,307.7 256.4,306.5 256.0,306.5 255.6,307.8 255.2,307.7 254.8,308.3 254.4,309.4 254.0,310.1 253.6,309.6 253.2,308.9 252.8,309.4 252.4,310.1 252.0,310.1 251.6,310.3 251.2,308.8 250.8,308.1 250.4,309.0 250.0,309.6 249.6,309.7 249.2,311.2 248.8,310.2 248.4,311.0 248.0,310.3 247.6,309.4 247.2,309.8 246.8,309.2 246.4,308.7 246.0,309.6 245.6,308.7 245.2,308.8 244.8,307.6 244.4,304.5 244.0,303.4 243.6,301.0 243.2,301.2 242.8,299.3 242.4,301.0 242.0,301.6 241.6,301.5 241.2,303.1 240.8,303.2 240.4,302.8 240.0,304.9 239.6,304.6 239.2,305.2 238.8,306.2 238.4,305.8 238.0,306.8 237.6,304.5 237.2,301.4 236.8,299.6 236.4,298.2 236.0,295.1 235.6,294.7 235.2,290.4 234.8,290.8 234.4,293.6 234.0,294.5 233.6,297.4 233.2,299.3 232.8,300.7 232.4,301.0 232.0,302.7 231.6,305.5 231.2,306.6 230.8,308.0 230.4,308.6 230.0,311.3 229.6,310.0 229.2,310.7 228.8,311.3 228.4,311.9 228.0,312.2 227.6,310.6 227.2,310.7 226.8,311.2 226.4,312.0 226.0,311.7 225.6,311.2 225.2,311.9 224.8,312.0 224.4,312.1 224.0,312.4 223.6,311.5 223.2,311.4 222.8,312.3 222.4,311.4 222.0,311.6 221.6,313.2 221.2,312.9 220.8,312.6 220.4,312.4 220.0,313.0 219.6,313.2 219.2,312.4 218.8,312.1 218.4,310.2 218.0,308.3 217.6,306.3 217.2,306.2 216.8,308.1 216.4,308.4 216.0,309.4 215.6,310.1 215.2,309.6 214.8,310.5 214.4,312.6 214.0,312.8 213.6,314.1 213.2,314.9 212.8,315.0 212.4,313.6 212.0,312.3 211.6,313.1 211.2,314.1 210.8,311.7 210.4,312.0 210.0,312.8 209.6,310.8 209.2,310.7 208.8,309.8 208.4,307.4 208.0,306.2 207.6,306.3 207.2,306.2 206.8,305.8 206.4,303.7 206.0,301.9 205.6,302.7 205.2,303.7 204.8,304.9 204.4,306.3 204.0,306.4 203.6,306.5 203.2,308.7 202.8,308.6 202.4,309.2 202.0,311.2 201.6,311.6 201.2,311.7 200.8,313.6 200.4,312.7 200.0,312.6 199.6,312.5 199.2,311.7 198.8,313.6 198.4,311.3 198.0,310.4 197.6,310.5 197.2,310.8 196.8,311.8 196.4,311.3 196.0,312.3 195.6,310.8 195.2,311.3 194.8,309.1 194.4,310.2 194.0,309.4 193.6,309.6 193.2,309.5 192.8,309.4 192.4,308.2 192.0,308.6 191.6,307.1 191.2,307.9 190.8,306.7 190.4,307.8 190.0,309.0 189.6,310.0 189.2,311.5 188.8,312.0 188.4,312.2 188.0,312.8 187.6,311.9 187.2,312.3 186.8,312.3 186.4,312.3 186.0,313.1 185.6,311.5 185.2,312.5 184.8,312.9 184.4,311.9 184.0,313.4 183.6,310.8 183.2,311.2 182.8,311.9 182.4,311.7 182.0,313.5 181.6,313.5 181.2,311.4 180.8,313.3 180.4,312.9 180.0,312.0 179.6,313.2 179.2,313.8 178.8,313.5 178.4,313.3 178.0,312.7 177.6,312.1 177.2,312.9 176.8,314.0 176.4,311.9 176.0,311.5 175.6,310.2 175.2,309.5 174.8,308.9 174.4,309.6 174.0,309.2 173.6,307.8 173.2,306.6 172.8,308.2 172.4,307.3 172.0,305.2 171.6,305.0 171.2,308.4 170.8,308.7 170.4,310.5 170.0,312.2 169.6,313.3 169.2,314.4 168.8,316.9 168.4,318.9 168.0,320.7 167.6,322.9 167.2,323.2 166.8,321.6 166.4,322.4 166.0,320.9 165.6,320.6 165.2,319.6 164.8,319.2 164.4,317.5 164.0,316.7 163.6,317.0 163.2,316.6 162.8,316.6 162.4,317.0 162.0,319.6 161.6,317.8 161.2,316.8 160.8,316.9 160.4,314.4 160.0,314.3 159.6,314.5 159.2,315.2 158.8,316.0 158.4,317.2 158.0,318.5 157.6,318.5 157.2,316.7 156.8,316.2 156.4,316.4 156.0,318.3 155.6,317.4 155.2,317.9 154.8,319.0 154.4,319.0 154.0,320.6 153.6,320.5 153.2,320.4 152.8,319.4 152.4,320.3 152.0,320.7 151.6,321.3 151.2,320.9 150.8,321.9 150.4,320.6 150.0,321.6 149.6,321.3 149.2,321.8 148.8,321.5 148.4,321.3 148.0,322.0 147.6,322.4 147.2,321.8 146.8,322.3 146.4,322.8 146.0,322.3 145.6,323.1 145.2,321.9 144.8,321.5 144.4,322.0 144.0,321.8 143.6,322.5 143.2,321.4 142.8,319.7 142.4,319.3 142.0,321.4 141.6,322.1 141.2,319.9 140.8,320.5 140.4,320.1 140.0,320.4 139.6,319.9 139.2,319.2 138.8,320.8 138.4,320.0 138.0,318.9 137.6,321.5 137.2,320.3 136.8,320.9 136.4,320.2 136.0,320.3 135.6,318.9 135.2,318.9 134.8,319.4 134.4,319.6 134.0,322.0 133.6,320.8 133.2,321.9 132.8,320.9 132.4,320.1 132.0,322.4 131.6,319.2 131.2,318.5 130.8,318.5 130.4,320.6 130.0,319.4 129.6,320.5 129.2,320.7 128.8,319.4 128.4,319.8 128.0,320.9 127.6,320.7 127.2,320.8 126.8,322.0 126.4,320.7 126.0,322.1 125.6,321.3 125.2,321.1 124.8,321.6 124.4,321.1 124.0,321.6 123.6,321.5 123.2,321.9 122.8,321.0 122.4,320.3 122.0,321.9 121.6,321.3 121.2,320.6 120.8,321.4 120.4,321.9 120.0,321.9 119.6,322.0 119.2,321.2 118.8,322.9 118.4,322.4 118.0,323.3 117.6,321.9 117.2,320.9 116.8,320.6 116.4,320.4 116.0,320.1 115.6,321.2 115.2,322.4 114.8,321.2 114.4,324.7 114.0,322.9 113.6,322.2 113.2,323.1 112.8,321.5 112.4,321.8 112.0,322.4 111.6,323.4 111.2,323.8 110.8,322.3 110.4,322.1 110.0,321.8 109.6,322.5 109.2,321.2 108.8,321.6 108.4,320.9 108.0,322.5 107.6,321.9 107.2,321.1 106.8,321.3 106.4,321.9 106.0,321.1 105.6,322.9 105.2,323.3 104.8,322.6 104.4,323.8 104.0,322.5 103.6,322.6 103.2,322.1 102.8,322.5 102.4,321.3 102.0,319.8 101.6,318.8 101.2,320.5 100.8,319.5 100.4,321.2 100.0,320.5 99.6,320.4 99.2,318.7 98.8,317.0 98.4,319.7 98.0,317.3 97.6,314.8 97.2,315.3 96.8,313.0 96.4,312.9 96.0,313.9 95.6,313.4 95.2,311.7 94.8,311.6 94.4,310.3 94.0,309.2 93.6,310.4 93.2,311.2 92.8,309.4 92.4,308.4 92.0,308.8 91.6,307.2 91.2,308.6 90.8,310.2 90.4,309.1 90.0,309.0 89.6,308.4 89.2,307.3 88.8,305.7 88.4,307.3 88.0,305.2 87.6,307.2 87.2,307.9 86.8,306.5 86.4,306.9 86.0,307.1 85.6,308.4 85.2,308.4 84.8,307.1 84.4,305.3 84.0,307.1 83.6,306.7 83.2,306.4 82.8,307.6 82.4,307.8 82.0,306.4 81.6,302.0"/>
</g>
<g stroke="#2b2b2b" stroke-width="1.6" fill="none"><line x1="76.6" y1="19.6" x2="81.5" y2="19.6"/><line x1="78.2" y1="45.2" x2="81.5" y2="45.2"/><line x1="76.6" y1="70.7" x2="81.5" y2="70.7"/><line x1="78.2" y1="96.3" x2="81.5" y2="96.3"/><line x1="76.6" y1="121.8" x2="81.5" y2="121.8"/><line x1="78.2" y1="147.4" x2="81.5" y2="147.4"/><line x1="76.6" y1="172.9" x2="81.5" y2="172.9"/><line x1="78.2" y1="198.5" x2="81.5" y2="198.5"/><line x1="76.6" y1="224.0" x2="81.5" y2="224.0"/><line x1="78.2" y1="249.6" x2="81.5" y2="249.6"/><line x1="76.6" y1="275.2" x2="81.5" y2="275.2"/><line x1="78.2" y1="300.7" x2="81.5" y2="300.7"/><line x1="76.6" y1="326.3" x2="81.5" y2="326.3"/><line x1="78.2" y1="351.8" x2="81.5" y2="351.8"/><line x1="76.6" y1="377.4" x2="81.5" y2="377.4"/><line x1="78.2" y1="402.9" x2="81.5" y2="402.9"/><line x1="76.6" y1="428.5" x2="81.5" y2="428.5"/><line x1="81.5" y1="428.5" x2="81.5" y2="433.7"/><line x1="125.2" y1="428.5" x2="125.2" y2="433.7"/><line x1="168.9" y1="428.5" x2="168.9" y2="433.7"/><line x1="212.5" y1="428.5" x2="212.5" y2="433.7"/><line x1="256.2" y1="428.5" x2="256.2" y2="433.7"/><line x1="299.9" y1="428.5" x2="299.9" y2="433.7"/><line x1="343.6" y1="428.5" x2="343.6" y2="433.7"/><line x1="387.3" y1="428.5" x2="387.3" y2="433.7"/><line x1="430.9" y1="428.5" x2="430.9" y2="433.7"/><line x1="474.6" y1="428.5" x2="474.6" y2="433.7"/><line x1="518.3" y1="428.5" x2="518.3" y2="433.7"/></g>
<path d="M81.5 19.6 H518.3 V428.5" fill="none" stroke="#3d3d3d" stroke-width="1.6"/>
<path d="M81.5 18.8 V428.5 H519.1" fill="none" stroke="#1e1e1e" stroke-width="2.1"/>
<!-- ===== panel B ===== -->
<g clip-path="url(#cb)">
<rect x="560" y="205.5" width="134.8" height="314.5" rx="0" fill="#d2abd1" opacity="1" filter="url(#pu)"/>
<rect x="733.3" y="-100" width="466.7" height="376.6" rx="28" fill="#3d8460" opacity="1" filter="url(#gr)"/>
<rect x="864.2" y="-100" width="335.8" height="256.6" rx="34" fill="#1d3148" opacity="1" filter="url(#nv)"/>
<rect x="686.5" y="186.5" width="60" height="127.5" rx="13" fill="#98d5f1" opacity="0.94" filter="url(#bl)"/>
<rect x="721.5" y="344.2" width="32.5" height="28.6" rx="8.5" fill="#ea1f3a" opacity="1" filter="url(#rd)"/>
</g>
<g stroke="#2b2b2b" stroke-width="1.7" fill="none"><line x1="623.6" y1="19.6" x2="629.0" y2="19.6"/><line x1="623.6" y1="70.7" x2="629.0" y2="70.7"/><line x1="623.6" y1="121.8" x2="629.0" y2="121.8"/><line x1="623.6" y1="172.9" x2="629.0" y2="172.9"/><line x1="623.6" y1="224.0" x2="629.0" y2="224.0"/><line x1="623.6" y1="275.2" x2="629.0" y2="275.2"/><line x1="623.6" y1="326.3" x2="629.0" y2="326.3"/><line x1="623.6" y1="377.4" x2="629.0" y2="377.4"/><line x1="623.6" y1="428.5" x2="629.0" y2="428.5"/><line x1="629.0" y1="428.5" x2="629.0" y2="433.9"/><line x1="672.5" y1="428.5" x2="672.5" y2="433.9"/><line x1="716.1" y1="428.5" x2="716.1" y2="433.9"/><line x1="759.6" y1="428.5" x2="759.6" y2="433.9"/><line x1="803.1" y1="428.5" x2="803.1" y2="433.9"/><line x1="846.6" y1="428.5" x2="846.6" y2="433.9"/><line x1="890.2" y1="428.5" x2="890.2" y2="433.9"/><line x1="933.7" y1="428.5" x2="933.7" y2="433.9"/><line x1="977.2" y1="428.5" x2="977.2" y2="433.9"/><line x1="1020.8" y1="428.5" x2="1020.8" y2="433.9"/><line x1="1064.3" y1="428.5" x2="1064.3" y2="433.9"/></g>
<rect x="629.0" y="19.6" width="435.3" height="408.9" fill="none" stroke="#303030" stroke-width="2.1"/>
<g stroke="#121212" stroke-width="1.7" stroke-linecap="butt">
<line x1="691.6" y1="159.3" x2="709.6" y2="191.2"/>
<line x1="741.6" y1="357.2" x2="768.3" y2="337.2"/>
<line x1="668.7" y1="383.0" x2="718.2" y2="398.7"/>
</g>
<!-- watermark -->
<g transform="translate(710 445) scale(1.07) translate(-710 -445)"><g fill="#b6b6b6">
<path d="M702.2 430.6c-6.9 0-12.4 4.6-12.4 10.4 0 3.3 1.8 6.2 4.7 8.1l-1.2 4 4.4-2.4c1.4.4 2.9.7 4.5.7 6.9 0 12.4-4.6 12.4-10.4s-5.500-10.400-12.400-10.400z"/>
<path d="M717.8 438.400c-6.800 0-12.300 4.400-12.300 10.000 0 5.500 5.500 10.000 12.300 10.000 1.400 0 2.800-.2 4.100-.6l4 2.400-1.100-3.700c3.200-1.800 5.300-4.800 5.300-8.100 0-5.600-5.500-10.000-12.300-10.000z" stroke="#fff" stroke-width="1.3"/>
</g>
<g fill="#fff"><ellipse cx="698.0" cy="437.6" rx="1.5" ry="1.7"/><ellipse cx="706.6" cy="437.6" rx="1.5" ry="1.7"/><ellipse cx="713.8" cy="446.4" rx="1.3" ry="1.5"/><ellipse cx="721.8" cy="446.4" rx="1.3" ry="1.5"/></g></g>
<g fill="none" stroke="#b8b8b8" stroke-width="9.2" stroke-linecap="butt" stroke-linejoin="miter"><path transform="translate(740.0,431.4) scale(0.268,0.286)" d="M40 6 L8 50 M60 6 L93 50 M46 46 L22 86 L80 80 M68 58 L90 94"/><path transform="translate(770.5,431.4) scale(0.268,0.286)" d="M50 4 L10 42 M52 10 L92 42 M28 44 L4 95 M28 58 L48 90 M70 44 L48 95 M70 58 L96 95"/><path transform="translate(801.5,431.4) scale(0.268,0.286)" d="M24 8 H76 V34 H24 Z M5 48 H95 M32 48 L26 66 H78 L74 90 L60 95"/><path transform="translate(862.4,431.4) scale(0.268,0.286)" d="M50 4 L4 46 M50 4 L96 46 M30 42 H70 M22 58 H78 V93 H22 Z"/><path transform="translate(893.2,431.4) scale(0.268,0.286)" d="M50 3 L4 38 M50 3 L96 38 M28 38 H72 M15 58 H85 M50 38 V92 M27 68 L35 85 M73 68 L65 85 M5 92 H95"/><path transform="translate(924.6,431.4) scale(0.268,0.286)" d="M30 5 L25 50 H86 L81 88 L66 95 M27 24 H84 M5 69 H70"/><path transform="translate(955.2,431.4) scale(0.268,0.286)" d="M50 2 V11 M12 12 H95 M12 12 L5 95 M20 28 H52 M36 18 V50 M36 30 L20 48 M36 30 L52 48 M58 28 H92 M75 18 V50 M75 30 L58 48 M75 30 L92 48 M32 60 L84 56 M22 70 H93 M28 83 H88 M57 56 V92 L48 96"/><path transform="translate(987.0,431.4) scale(0.268,0.286)" d="M3 28 H32 M18 5 V92 L9 89 M3 64 L32 52 M66 2 V10 M38 24 V14 H95 L92 24 M56 22 L40 46 M48 30 L62 40 M80 20 L60 50 M72 30 L96 48 M50 56 H86 M40 68 H96 M67 68 V95 L60 93 M53 78 L42 92 M82 78 L93 92"/><path transform="translate(1018.2,431.4) scale(0.268,0.286)" d="M22 7 L30 22 M48 4 L52 20 M80 5 L68 22 M8 42 V28 H92 L88 42 M28 45 H72 L52 58 V90 L40 95 M5 70 H95"/></g>
<!-- text -->
<text x="14.6" y="34.8" font-size="25.80" fill="#111" stroke="#111" stroke-width="0.2" font-weight="bold" text-anchor="start" textLength="23.6" lengthAdjust="spacingAndGlyphs">A.</text>
<text x="546.5" y="34.8" font-size="25.80" fill="#111" stroke="#111" stroke-width="0.2" font-weight="bold" text-anchor="start" textLength="22.5" lengthAdjust="spacingAndGlyphs">B.</text>
<text x="73.0" y="26.5" font-size="18.60" fill="#1a1a1a" stroke="#1a1a1a" stroke-width="0.32" font-weight="normal" text-anchor="end" textLength="25.6" lengthAdjust="spacingAndGlyphs">0.8</text>
<text x="73.0" y="77.6" font-size="18.60" fill="#1a1a1a" stroke="#1a1a1a" stroke-width="0.32" font-weight="normal" text-anchor="end" textLength="25.6" lengthAdjust="spacingAndGlyphs">0.7</text>
<text x="73.0" y="128.7" font-size="18.60" fill="#1a1a1a" stroke="#1a1a1a" stroke-width="0.32" font-weight="normal" text-anchor="end" textLength="25.6" lengthAdjust="spacingAndGlyphs">0.6</text>
<text x="73.0" y="179.8" font-size="18.60" fill="#1a1a1a" stroke="#1a1a1a" stroke-width="0.32" font-weight="normal" text-anchor="end" textLength="25.6" lengthAdjust="spacingAndGlyphs">0.5</text>
<text x="73.0" y="230.9" font-size="18.60" fill="#1a1a1a" stroke="#1a1a1a" stroke-width="0.32" font-weight="normal" text-anchor="end" textLength="25.6" lengthAdjust="spacingAndGlyphs">0.4</text>
<text x="73.0" y="282.1" font-size="18.60" fill="#1a1a1a" stroke="#1a1a1a" stroke-width="0.32" font-weight="normal" text-anchor="end" textLength="25.6" lengthAdjust="spacingAndGlyphs">0.3</text>
<text x="73.0" y="333.2" font-size="18.60" fill="#1a1a1a" stroke="#1a1a1a" stroke-width="0.32" font-weight="normal" text-anchor="end" textLength="25.6" lengthAdjust="spacingAndGlyphs">0.2</text>
<text x="73.0" y="384.3" font-size="18.60" fill="#1a1a1a" stroke="#1a1a1a" stroke-width="0.32" font-weight="normal" text-anchor="end" textLength="25.6" lengthAdjust="spacingAndGlyphs">0.1</text>
<text x="73.0" y="435.4" font-size="18.60" fill="#1a1a1a" stroke="#1a1a1a" stroke-width="0.32" font-weight="normal" text-anchor="end" textLength="25.6" lengthAdjust="spacingAndGlyphs">0.0</text>
<text x="80.7" y="455.2" font-size="18.90" fill="#1a1a1a" stroke="#1a1a1a" stroke-width="0.32" font-weight="normal" text-anchor="middle">0</text>
<text x="168.1" y="455.2" font-size="18.90" fill="#1a1a1a" stroke="#1a1a1a" stroke-width="0.32" font-weight="normal" text-anchor="middle">20k</text>
<text x="255.4" y="455.2" font-size="18.90" fill="#1a1a1a" stroke="#1a1a1a" stroke-width="0.32" font-weight="normal" text-anchor="middle">40k</text>
<text x="342.8" y="455.2" font-size="18.90" fill="#1a1a1a" stroke="#1a1a1a" stroke-width="0.32" font-weight="normal" text-anchor="middle">60k</text>
<text x="430.1" y="455.2" font-size="18.90" fill="#1a1a1a" stroke="#1a1a1a" stroke-width="0.32" font-weight="normal" text-anchor="middle">80k</text>
<text x="518.5" y="455.2" font-size="18.90" fill="#1a1a1a" stroke="#1a1a1a" stroke-width="0.32" font-weight="normal" text-anchor="middle">100k</text>
<text x="249.3" y="478.7" font-size="16.50" fill="#222" stroke="#222" stroke-width="0.32" font-weight="normal" text-anchor="start" textLength="98.4" lengthAdjust="spacingAndGlyphs">sliding cycles</text>
<text transform="translate(37.6,225.2) rotate(-90)" font-size="22.4" fill="#1a1a1a" stroke="#1a1a1a" stroke-width="0.32" text-anchor="middle" textLength="174.5" lengthAdjust="spacingAndGlyphs">friction coefficient</text>
<text x="239.2" y="72.6" font-size="17.90" fill="#7b7d7f" stroke="#7b7d7f" stroke-width="0.32" font-weight="normal" text-anchor="start" textLength="14.2" lengthAdjust="spacingAndGlyphs">Si</text>
<text x="254.6" y="79.6" font-size="11.60" fill="#7b7d7f" stroke="#7b7d7f" stroke-width="0.32" font-weight="normal" text-anchor="start" textLength="5.6" lengthAdjust="spacingAndGlyphs">3</text>
<text x="260.6" y="72.6" font-size="17.90" fill="#7b7d7f" stroke="#7b7d7f" stroke-width="0.32" font-weight="normal" text-anchor="start" textLength="13.6" lengthAdjust="spacingAndGlyphs">N</text>
<text x="274.0" y="79.6" font-size="11.60" fill="#7b7d7f" stroke="#7b7d7f" stroke-width="0.32" font-weight="normal" text-anchor="start" textLength="6.4" lengthAdjust="spacingAndGlyphs">4</text>
<text x="285.0" y="72.6" font-size="17.90" fill="#7b7d7f" stroke="#7b7d7f" stroke-width="0.32" font-weight="normal" text-anchor="start" textLength="221.6" lengthAdjust="spacingAndGlyphs">ball vs Pt-Au as-deposited</text>
<text x="177.0" y="249.7" font-size="17.90" fill="#aaabad" stroke="#aaabad" stroke-width="0.32" font-weight="normal" text-anchor="start" textLength="16.4" lengthAdjust="spacingAndGlyphs">Al</text>
<text x="194.6" y="256.8" font-size="11.60" fill="#aaabad" stroke="#aaabad" stroke-width="0.32" font-weight="normal" text-anchor="start" textLength="5.6" lengthAdjust="spacingAndGlyphs">2</text>
<text x="199.9" y="249.7" font-size="17.90" fill="#aaabad" stroke="#aaabad" stroke-width="0.32" font-weight="normal" text-anchor="start" textLength="15.0" lengthAdjust="spacingAndGlyphs">O</text>
<text x="215.8" y="256.8" font-size="11.60" fill="#aaabad" stroke="#aaabad" stroke-width="0.32" font-weight="normal" text-anchor="start" textLength="5.6" lengthAdjust="spacingAndGlyphs">3</text>
<text x="226.0" y="249.7" font-size="17.90" fill="#aaabad" stroke="#aaabad" stroke-width="0.32" font-weight="normal" text-anchor="start" textLength="276.2" lengthAdjust="spacingAndGlyphs">ball vs Pt-Au 1 day, 500°C anneal</text>
<text x="232.6" y="346.9" font-size="17.90" fill="#161616" stroke="#161616" stroke-width="0.32" font-weight="normal" text-anchor="start" textLength="16.8" lengthAdjust="spacingAndGlyphs">Al</text>
<text x="250.6" y="354.0" font-size="11.60" fill="#161616" stroke="#161616" stroke-width="0.32" font-weight="normal" text-anchor="start" textLength="5.6" lengthAdjust="spacingAndGlyphs">2</text>
<text x="255.9" y="346.9" font-size="17.90" fill="#161616" stroke="#161616" stroke-width="0.32" font-weight="normal" text-anchor="start" textLength="15.2" lengthAdjust="spacingAndGlyphs">O</text>
<text x="271.8" y="354.0" font-size="11.60" fill="#161616" stroke="#161616" stroke-width="0.32" font-weight="normal" text-anchor="start" textLength="5.6" lengthAdjust="spacingAndGlyphs">3</text>
<text x="281.2" y="346.9" font-size="17.90" fill="#161616" stroke="#161616" stroke-width="0.32" font-weight="normal" text-anchor="start" textLength="221.2" lengthAdjust="spacingAndGlyphs">ball vs Pt-Au as-deposited</text>
<text x="592.2" y="26.8" font-size="14.30" fill="#2a2a2a" stroke="#2a2a2a" stroke-width="0.32" font-weight="normal" text-anchor="start" textLength="13.8" lengthAdjust="spacingAndGlyphs">10</text>
<text x="606.2" y="22.0" font-size="8.20" fill="#2a2a2a" stroke="#2a2a2a" stroke-width="0.32" font-weight="normal" text-anchor="start" textLength="7.6" lengthAdjust="spacingAndGlyphs">-2</text>
<text x="592.2" y="77.9" font-size="14.30" fill="#2a2a2a" stroke="#2a2a2a" stroke-width="0.32" font-weight="normal" text-anchor="start" textLength="13.8" lengthAdjust="spacingAndGlyphs">10</text>
<text x="606.2" y="73.1" font-size="8.20" fill="#2a2a2a" stroke="#2a2a2a" stroke-width="0.32" font-weight="normal" text-anchor="start" textLength="7.6" lengthAdjust="spacingAndGlyphs">-3</text>
<text x="592.2" y="129.0" font-size="14.30" fill="#2a2a2a" stroke="#2a2a2a" stroke-width="0.32" font-weight="normal" text-anchor="start" textLength="13.8" lengthAdjust="spacingAndGlyphs">10</text>
<text x="606.2" y="124.2" font-size="8.20" fill="#2a2a2a" stroke="#2a2a2a" stroke-width="0.32" font-weight="normal" text-anchor="start" textLength="7.6" lengthAdjust="spacingAndGlyphs">-4</text>
<text x="592.2" y="180.1" font-size="14.30" fill="#2a2a2a" stroke="#2a2a2a" stroke-width="0.32" font-weight="normal" text-anchor="start" textLength="13.8" lengthAdjust="spacingAndGlyphs">10</text>
<text x="606.2" y="175.3" font-size="8.20" fill="#2a2a2a" stroke="#2a2a2a" stroke-width="0.32" font-weight="normal" text-anchor="start" textLength="7.6" lengthAdjust="spacingAndGlyphs">-5</text>
<text x="592.2" y="231.2" font-size="14.30" fill="#2a2a2a" stroke="#2a2a2a" stroke-width="0.32" font-weight="normal" text-anchor="start" textLength="13.8" lengthAdjust="spacingAndGlyphs">10</text>
<text x="606.2" y="226.4" font-size="8.20" fill="#2a2a2a" stroke="#2a2a2a" stroke-width="0.32" font-weight="normal" text-anchor="start" textLength="7.6" lengthAdjust="spacingAndGlyphs">-6</text>
<text x="592.2" y="282.4" font-size="14.30" fill="#2a2a2a" stroke="#2a2a2a" stroke-width="0.32" font-weight="normal" text-anchor="start" textLength="13.8" lengthAdjust="spacingAndGlyphs">10</text>
<text x="606.2" y="277.6" font-size="8.20" fill="#2a2a2a" stroke="#2a2a2a" stroke-width="0.32" font-weight="normal" text-anchor="start" textLength="7.6" lengthAdjust="spacingAndGlyphs">-7</text>
<text x="592.2" y="333.5" font-size="14.30" fill="#2a2a2a" stroke="#2a2a2a" stroke-width="0.32" font-weight="normal" text-anchor="start" textLength="13.8" lengthAdjust="spacingAndGlyphs">10</text>
<text x="606.2" y="328.7" font-size="8.20" fill="#2a2a2a" stroke="#2a2a2a" stroke-width="0.32" font-weight="normal" text-anchor="start" textLength="7.6" lengthAdjust="spacingAndGlyphs">-8</text>
<text x="592.2" y="384.6" font-size="14.30" fill="#2a2a2a" stroke="#2a2a2a" stroke-width="0.32" font-weight="normal" text-anchor="start" textLength="13.8" lengthAdjust="spacingAndGlyphs">10</text>
<text x="606.2" y="379.8" font-size="8.20" fill="#2a2a2a" stroke="#2a2a2a" stroke-width="0.32" font-weight="normal" text-anchor="start" textLength="7.6" lengthAdjust="spacingAndGlyphs">-9</text>
<text x="592.2" y="435.7" font-size="14.30" fill="#2a2a2a" stroke="#2a2a2a" stroke-width="0.32" font-weight="normal" text-anchor="start" textLength="13.8" lengthAdjust="spacingAndGlyphs">10</text>
<text x="606.2" y="430.9" font-size="8.20" fill="#2a2a2a" stroke="#2a2a2a" stroke-width="0.32" font-weight="normal" text-anchor="start" textLength="11.0" lengthAdjust="spacingAndGlyphs">-10</text>
<text x="629.0" y="454.6" font-size="14.30" fill="#2a2a2a" stroke="#2a2a2a" stroke-width="0.32" font-weight="normal" text-anchor="middle" textLength="19.4" lengthAdjust="spacingAndGlyphs">0.0</text>
<text x="846.6" y="454.6" font-size="14.30" fill="#2a2a2a" stroke="#2a2a2a" stroke-width="0.32" font-weight="normal" text-anchor="middle" textLength="19.4" lengthAdjust="spacingAndGlyphs">0.5</text>
<text x="1064.3" y="454.6" font-size="14.30" fill="#2a2a2a" stroke="#2a2a2a" stroke-width="0.32" font-weight="normal" text-anchor="middle" textLength="19.4" lengthAdjust="spacingAndGlyphs">1.0</text>
<text x="779.4" y="478.2" font-size="17.10" fill="#1c1c1c" stroke="#1c1c1c" stroke-width="0.32" font-weight="normal" text-anchor="start" textLength="134.0" lengthAdjust="spacingAndGlyphs">friction coefficient</text>
<text transform="translate(572.2,224.4) rotate(-90)" font-size="16.5" fill="#222" stroke="#222" stroke-width="0.3" text-anchor="middle" textLength="217" lengthAdjust="spacingAndGlyphs"><tspan>specific wear rate (mm</tspan><tspan dy="-5.5" font-size="9.5">3</tspan><tspan dy="5.5">/N-m)</tspan></text>
<text x="640.0" y="129.0" font-size="16.20" fill="#1c1c1c" stroke="#1c1c1c" stroke-width="0.32" font-weight="normal" text-anchor="start" textLength="81.4" lengthAdjust="spacingAndGlyphs">PTFE nano-</text>
<text x="640.0" y="149.3" font-size="16.20" fill="#1c1c1c" stroke="#1c1c1c" stroke-width="0.32" font-weight="normal" text-anchor="start" textLength="82.0" lengthAdjust="spacingAndGlyphs">composites</text>
<text x="722.6" y="144.6" font-size="9.40" fill="#1c1c1c" stroke="#1c1c1c" stroke-width="0.32" font-weight="normal" text-anchor="start" textLength="9.6" lengthAdjust="spacingAndGlyphs">12</text>
<text x="947.0" y="64.6" font-size="16.40" fill="#dfe8ee" stroke="#dfe8ee" stroke-width="0.12" font-weight="normal" text-anchor="start" textLength="46.2" lengthAdjust="spacingAndGlyphs">coarse</text>
<text x="942.6" y="85.2" font-size="16.40" fill="#dfe8ee" stroke="#dfe8ee" stroke-width="0.12" font-weight="normal" text-anchor="start" textLength="54.8" lengthAdjust="spacingAndGlyphs">grained</text>
<text x="941.4" y="105.4" font-size="16.40" fill="#dfe8ee" stroke="#dfe8ee" stroke-width="0.12" font-weight="normal" text-anchor="start" textLength="47.4" lengthAdjust="spacingAndGlyphs">metals</text>
<text x="989.6" y="100.6" font-size="9.40" fill="#dfe8ee" stroke="#dfe8ee" stroke-width="0.12" font-weight="normal" text-anchor="start" textLength="9.6" lengthAdjust="spacingAndGlyphs">14</text>
<text x="811.6" y="210.4" font-size="16.40" fill="#d9ecdc" stroke="#d9ecdc" stroke-width="0.12" font-weight="normal" text-anchor="start" textLength="110.4" lengthAdjust="spacingAndGlyphs">nanocrystalline</text>
<text x="825.0" y="231.0" font-size="16.40" fill="#d9ecdc" stroke="#d9ecdc" stroke-width="0.12" font-weight="normal" text-anchor="start" textLength="47.6" lengthAdjust="spacingAndGlyphs">metals</text>
<text x="873.6" y="226.6" font-size="9.40" fill="#d9ecdc" stroke="#d9ecdc" stroke-width="0.12" font-weight="normal" text-anchor="start" textLength="34.4" lengthAdjust="spacingAndGlyphs">14,49,55</text>
<text x="772.4" y="333.8" font-size="17.60" fill="#0d0d0d" stroke="#0d0d0d" stroke-width="0.2" font-weight="bold" text-anchor="start" textLength="138.0" lengthAdjust="spacingAndGlyphs">Pt-Au (this work)</text>
<text x="722.0" y="396.5" font-size="16.40" fill="#1c1c1c" stroke="#1c1c1c" stroke-width="0.32" font-weight="normal" text-anchor="start" textLength="149.6" lengthAdjust="spacingAndGlyphs">diamond-like carbon</text>
<text x="871.6" y="391.2" font-size="9.40" fill="#1c1c1c" stroke="#1c1c1c" stroke-width="0.32" font-weight="normal" text-anchor="start" textLength="5.2" lengthAdjust="spacingAndGlyphs">2</text>
<text x="722.0" y="416.8" font-size="16.40" fill="#1c1c1c" stroke="#1c1c1c" stroke-width="0.32" font-weight="normal" text-anchor="start" textLength="63.2" lengthAdjust="spacingAndGlyphs">and MoS</text>
<text x="785.6" y="421.8" font-size="9.40" fill="#1c1c1c" stroke="#1c1c1c" stroke-width="0.32" font-weight="normal" text-anchor="start" textLength="5.0" lengthAdjust="spacingAndGlyphs">2</text>
<text x="794.6" y="416.8" font-size="16.40" fill="#1c1c1c" stroke="#1c1c1c" stroke-width="0.32" font-weight="normal" text-anchor="start" textLength="117.4" lengthAdjust="spacingAndGlyphs">nanocomposites</text>
<text x="912.8" y="411.2" font-size="9.40" fill="#1c1c1c" stroke="#1c1c1c" stroke-width="0.32" font-weight="normal" text-anchor="start" textLength="18.2" lengthAdjust="spacingAndGlyphs">9,56</text>
</g>
</svg>
</body></html>
